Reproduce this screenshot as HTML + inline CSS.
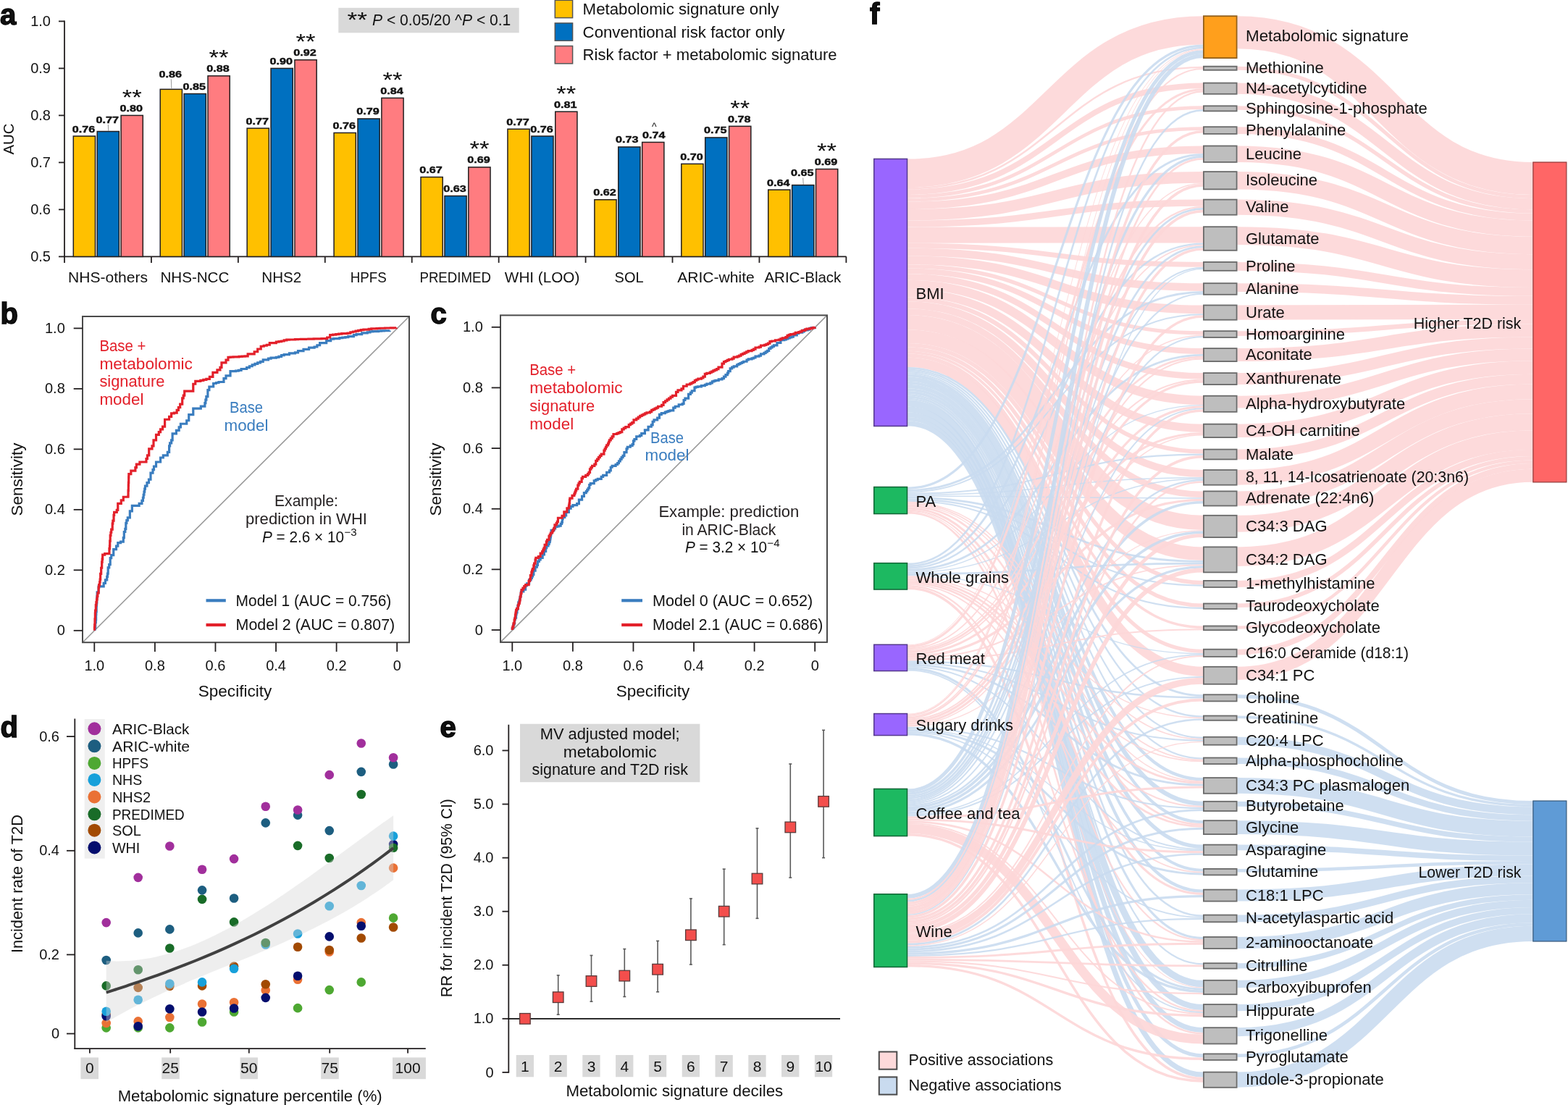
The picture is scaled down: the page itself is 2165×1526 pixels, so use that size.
<!DOCTYPE html>
<html><head><meta charset="utf-8"><title>Figure</title>
<style>html,body{margin:0;padding:0;background:#fff;} svg{display:block;}</style></head>
<body><svg width="2165" height="1526" viewBox="0 0 2165 1526" font-family="'Liberation Sans', Arial, Helvetica, sans-serif" font-size="22" fill="#111">
<rect width="2165" height="1526" fill="#fff"/>
<text x="0" y="33.5" font-size="40" font-weight="bold" stroke="#000" stroke-width="1.4">a</text>
<line x1="89" y1="28.4" x2="89" y2="354.4" stroke="#231f20" stroke-width="1.8" />
<line x1="88.1" y1="354.4" x2="1168.5" y2="354.4" stroke="#231f20" stroke-width="1.8" />
<line x1="81" y1="29.4" x2="89" y2="29.4" stroke="#231f20" stroke-width="1.8" />
<text x="70" y="36" font-size="20" text-anchor="end">1.0</text>
<line x1="81" y1="94.4" x2="89" y2="94.4" stroke="#231f20" stroke-width="1.8" />
<text x="70" y="101" font-size="20" text-anchor="end">0.9</text>
<line x1="81" y1="159.4" x2="89" y2="159.4" stroke="#231f20" stroke-width="1.8" />
<text x="70" y="166" font-size="20" text-anchor="end">0.8</text>
<line x1="81" y1="224.4" x2="89" y2="224.4" stroke="#231f20" stroke-width="1.8" />
<text x="70" y="231" font-size="20" text-anchor="end">0.7</text>
<line x1="81" y1="289.4" x2="89" y2="289.4" stroke="#231f20" stroke-width="1.8" />
<text x="70" y="296" font-size="20" text-anchor="end">0.6</text>
<line x1="81" y1="354.4" x2="89" y2="354.4" stroke="#231f20" stroke-width="1.8" />
<text x="70" y="361" font-size="20" text-anchor="end">0.5</text>
<line x1="89" y1="354.4" x2="89" y2="362.9" stroke="#231f20" stroke-width="1.8" />
<line x1="208.93" y1="354.4" x2="208.93" y2="362.9" stroke="#231f20" stroke-width="1.8" />
<line x1="328.86" y1="354.4" x2="328.86" y2="362.9" stroke="#231f20" stroke-width="1.8" />
<line x1="448.79" y1="354.4" x2="448.79" y2="362.9" stroke="#231f20" stroke-width="1.8" />
<line x1="568.72" y1="354.4" x2="568.72" y2="362.9" stroke="#231f20" stroke-width="1.8" />
<line x1="688.65" y1="354.4" x2="688.65" y2="362.9" stroke="#231f20" stroke-width="1.8" />
<line x1="808.58" y1="354.4" x2="808.58" y2="362.9" stroke="#231f20" stroke-width="1.8" />
<line x1="928.51" y1="354.4" x2="928.51" y2="362.9" stroke="#231f20" stroke-width="1.8" />
<line x1="1048.44" y1="354.4" x2="1048.44" y2="362.9" stroke="#231f20" stroke-width="1.8" />
<line x1="1168.37" y1="354.4" x2="1168.37" y2="362.9" stroke="#231f20" stroke-width="1.8" />
<text x="19" y="192" font-size="20" text-anchor="middle" textLength="43" lengthAdjust="spacingAndGlyphs" transform="rotate(-90 19 192)">AUC</text>
<text x="148.97" y="389.5" font-size="21" text-anchor="middle" textLength="110" lengthAdjust="spacingAndGlyphs">NHS-others</text>
<rect x="101.3" y="188" width="30.2" height="166.4" fill="#ffc000" stroke="#231f20" stroke-width="1.5" />
<text x="115.4" y="182.5" font-size="13.6" text-anchor="middle" font-weight="bold" textLength="31.5" lengthAdjust="spacingAndGlyphs" stroke="#111" stroke-width="0.45">0.76</text>
<rect x="134.2" y="181.5" width="30.2" height="172.9" fill="#0070c0" stroke="#231f20" stroke-width="1.5" />
<line x1="149.3" y1="172" x2="149.8" y2="181" stroke="#999" stroke-width="1" />
<text x="148.3" y="169.5" font-size="13.6" text-anchor="middle" font-weight="bold" textLength="31.5" lengthAdjust="spacingAndGlyphs" stroke="#111" stroke-width="0.45">0.77</text>
<rect x="167.1" y="159.4" width="30.2" height="195" fill="#ff7c80" stroke="#231f20" stroke-width="1.5" />
<text x="181.2" y="153.9" font-size="13.6" text-anchor="middle" font-weight="bold" textLength="31.5" lengthAdjust="spacingAndGlyphs" stroke="#111" stroke-width="0.45">0.80</text>
<text x="182.2" y="143.9" font-size="30" text-anchor="middle" textLength="27" lengthAdjust="spacingAndGlyphs">**</text>
<text x="268.89" y="389.5" font-size="21" text-anchor="middle" textLength="95" lengthAdjust="spacingAndGlyphs">NHS-NCC</text>
<rect x="221.23" y="123.32" width="30.2" height="231.08" fill="#ffc000" stroke="#231f20" stroke-width="1.5" />
<line x1="236.33" y1="109.32" x2="236.83" y2="122.82" stroke="#999" stroke-width="1" />
<text x="235.33" y="106.82" font-size="13.6" text-anchor="middle" font-weight="bold" textLength="31.5" lengthAdjust="spacingAndGlyphs" stroke="#111" stroke-width="0.45">0.86</text>
<rect x="254.13" y="129.5" width="30.2" height="224.9" fill="#0070c0" stroke="#231f20" stroke-width="1.5" />
<text x="268.23" y="124" font-size="13.6" text-anchor="middle" font-weight="bold" textLength="31.5" lengthAdjust="spacingAndGlyphs" stroke="#111" stroke-width="0.45">0.85</text>
<rect x="287.03" y="104.8" width="30.2" height="249.6" fill="#ff7c80" stroke="#231f20" stroke-width="1.5" />
<text x="301.13" y="99.3" font-size="13.6" text-anchor="middle" font-weight="bold" textLength="31.5" lengthAdjust="spacingAndGlyphs" stroke="#111" stroke-width="0.45">0.88</text>
<text x="302.13" y="89.3" font-size="30" text-anchor="middle" textLength="27" lengthAdjust="spacingAndGlyphs">**</text>
<text x="388.83" y="389.5" font-size="21" text-anchor="middle" textLength="55" lengthAdjust="spacingAndGlyphs">NHS2</text>
<rect x="341.16" y="177.14" width="30.2" height="177.26" fill="#ffc000" stroke="#231f20" stroke-width="1.5" />
<text x="355.26" y="171.64" font-size="13.6" text-anchor="middle" font-weight="bold" textLength="31.5" lengthAdjust="spacingAndGlyphs" stroke="#111" stroke-width="0.45">0.77</text>
<rect x="374.06" y="94.4" width="30.2" height="260" fill="#0070c0" stroke="#231f20" stroke-width="1.5" />
<text x="388.16" y="88.9" font-size="13.6" text-anchor="middle" font-weight="bold" textLength="31.5" lengthAdjust="spacingAndGlyphs" stroke="#111" stroke-width="0.45">0.90</text>
<rect x="406.96" y="82.7" width="30.2" height="271.7" fill="#ff7c80" stroke="#231f20" stroke-width="1.5" />
<text x="421.06" y="77.2" font-size="13.6" text-anchor="middle" font-weight="bold" textLength="31.5" lengthAdjust="spacingAndGlyphs" stroke="#111" stroke-width="0.45">0.92</text>
<text x="422.06" y="67.2" font-size="30" text-anchor="middle" textLength="27" lengthAdjust="spacingAndGlyphs">**</text>
<text x="508.75" y="389.5" font-size="21" text-anchor="middle" textLength="50" lengthAdjust="spacingAndGlyphs">HPFS</text>
<rect x="461.09" y="183.45" width="30.2" height="170.95" fill="#ffc000" stroke="#231f20" stroke-width="1.5" />
<text x="475.19" y="177.95" font-size="13.6" text-anchor="middle" font-weight="bold" textLength="31.5" lengthAdjust="spacingAndGlyphs" stroke="#111" stroke-width="0.45">0.76</text>
<rect x="493.99" y="163.95" width="30.2" height="190.45" fill="#0070c0" stroke="#231f20" stroke-width="1.5" />
<text x="508.09" y="158.45" font-size="13.6" text-anchor="middle" font-weight="bold" textLength="31.5" lengthAdjust="spacingAndGlyphs" stroke="#111" stroke-width="0.45">0.79</text>
<rect x="526.89" y="135.35" width="30.2" height="219.05" fill="#ff7c80" stroke="#231f20" stroke-width="1.5" />
<text x="540.99" y="129.85" font-size="13.6" text-anchor="middle" font-weight="bold" textLength="31.5" lengthAdjust="spacingAndGlyphs" stroke="#111" stroke-width="0.45">0.84</text>
<text x="541.99" y="119.85" font-size="30" text-anchor="middle" textLength="27" lengthAdjust="spacingAndGlyphs">**</text>
<text x="628.69" y="389.5" font-size="21" text-anchor="middle" textLength="98.5" lengthAdjust="spacingAndGlyphs">PREDIMED</text>
<rect x="581.02" y="244.55" width="30.2" height="109.85" fill="#ffc000" stroke="#231f20" stroke-width="1.5" />
<text x="595.12" y="239.05" font-size="13.6" text-anchor="middle" font-weight="bold" textLength="31.5" lengthAdjust="spacingAndGlyphs" stroke="#111" stroke-width="0.45">0.67</text>
<rect x="613.92" y="270.55" width="30.2" height="83.85" fill="#0070c0" stroke="#231f20" stroke-width="1.5" />
<text x="628.02" y="265.05" font-size="13.6" text-anchor="middle" font-weight="bold" textLength="31.5" lengthAdjust="spacingAndGlyphs" stroke="#111" stroke-width="0.45">0.63</text>
<rect x="646.82" y="230.9" width="30.2" height="123.5" fill="#ff7c80" stroke="#231f20" stroke-width="1.5" />
<text x="660.92" y="225.4" font-size="13.6" text-anchor="middle" font-weight="bold" textLength="31.5" lengthAdjust="spacingAndGlyphs" stroke="#111" stroke-width="0.45">0.69</text>
<text x="661.92" y="215.4" font-size="30" text-anchor="middle" textLength="27" lengthAdjust="spacingAndGlyphs">**</text>
<text x="748.62" y="389.5" font-size="21" text-anchor="middle" textLength="103.5" lengthAdjust="spacingAndGlyphs">WHI (LOO)</text>
<rect x="700.95" y="178.25" width="30.2" height="176.15" fill="#ffc000" stroke="#231f20" stroke-width="1.5" />
<text x="715.05" y="172.75" font-size="13.6" text-anchor="middle" font-weight="bold" textLength="31.5" lengthAdjust="spacingAndGlyphs" stroke="#111" stroke-width="0.45">0.77</text>
<rect x="733.85" y="188" width="30.2" height="166.4" fill="#0070c0" stroke="#231f20" stroke-width="1.5" />
<text x="747.95" y="182.5" font-size="13.6" text-anchor="middle" font-weight="bold" textLength="31.5" lengthAdjust="spacingAndGlyphs" stroke="#111" stroke-width="0.45">0.76</text>
<rect x="766.75" y="154.2" width="30.2" height="200.2" fill="#ff7c80" stroke="#231f20" stroke-width="1.5" />
<text x="780.85" y="148.7" font-size="13.6" text-anchor="middle" font-weight="bold" textLength="31.5" lengthAdjust="spacingAndGlyphs" stroke="#111" stroke-width="0.45">0.81</text>
<text x="781.85" y="138.7" font-size="30" text-anchor="middle" textLength="27" lengthAdjust="spacingAndGlyphs">**</text>
<text x="868.55" y="389.5" font-size="21" text-anchor="middle" textLength="40" lengthAdjust="spacingAndGlyphs">SOL</text>
<rect x="820.88" y="275.75" width="30.2" height="78.65" fill="#ffc000" stroke="#231f20" stroke-width="1.5" />
<text x="834.98" y="270.25" font-size="13.6" text-anchor="middle" font-weight="bold" textLength="31.5" lengthAdjust="spacingAndGlyphs" stroke="#111" stroke-width="0.45">0.62</text>
<rect x="853.78" y="202.95" width="30.2" height="151.45" fill="#0070c0" stroke="#231f20" stroke-width="1.5" />
<text x="865.88" y="197.45" font-size="13.6" text-anchor="middle" font-weight="bold" textLength="31.5" lengthAdjust="spacingAndGlyphs" stroke="#111" stroke-width="0.45">0.73</text>
<rect x="886.68" y="196.45" width="30.2" height="157.95" fill="#ff7c80" stroke="#231f20" stroke-width="1.5" />
<text x="902.78" y="190.95" font-size="13.6" text-anchor="middle" font-weight="bold" textLength="31.5" lengthAdjust="spacingAndGlyphs" stroke="#111" stroke-width="0.45">0.74</text>
<text x="903.28" y="179.95" font-size="14" text-anchor="middle">^</text>
<text x="988.48" y="389.5" font-size="21" text-anchor="middle" textLength="106.5" lengthAdjust="spacingAndGlyphs">ARIC-white</text>
<rect x="940.81" y="226.35" width="30.2" height="128.05" fill="#ffc000" stroke="#231f20" stroke-width="1.5" />
<text x="954.91" y="220.85" font-size="13.6" text-anchor="middle" font-weight="bold" textLength="31.5" lengthAdjust="spacingAndGlyphs" stroke="#111" stroke-width="0.45">0.70</text>
<rect x="973.71" y="189.95" width="30.2" height="164.45" fill="#0070c0" stroke="#231f20" stroke-width="1.5" />
<text x="987.81" y="184.45" font-size="13.6" text-anchor="middle" font-weight="bold" textLength="31.5" lengthAdjust="spacingAndGlyphs" stroke="#111" stroke-width="0.45">0.75</text>
<rect x="1006.61" y="174.35" width="30.2" height="180.05" fill="#ff7c80" stroke="#231f20" stroke-width="1.5" />
<text x="1020.71" y="168.85" font-size="13.6" text-anchor="middle" font-weight="bold" textLength="31.5" lengthAdjust="spacingAndGlyphs" stroke="#111" stroke-width="0.45">0.78</text>
<text x="1021.71" y="158.85" font-size="30" text-anchor="middle" textLength="27" lengthAdjust="spacingAndGlyphs">**</text>
<text x="1108.4" y="389.5" font-size="21" text-anchor="middle" textLength="106" lengthAdjust="spacingAndGlyphs">ARIC-Black</text>
<rect x="1060.74" y="262.1" width="30.2" height="92.3" fill="#ffc000" stroke="#231f20" stroke-width="1.5" />
<text x="1074.84" y="256.6" font-size="13.6" text-anchor="middle" font-weight="bold" textLength="31.5" lengthAdjust="spacingAndGlyphs" stroke="#111" stroke-width="0.45">0.64</text>
<rect x="1093.64" y="255.6" width="30.2" height="98.8" fill="#0070c0" stroke="#231f20" stroke-width="1.5" />
<line x1="1108.74" y1="245.6" x2="1109.24" y2="255.1" stroke="#999" stroke-width="1" />
<text x="1107.74" y="243.1" font-size="13.6" text-anchor="middle" font-weight="bold" textLength="31.5" lengthAdjust="spacingAndGlyphs" stroke="#111" stroke-width="0.45">0.65</text>
<rect x="1126.54" y="233.5" width="30.2" height="120.9" fill="#ff7c80" stroke="#231f20" stroke-width="1.5" />
<text x="1140.64" y="228" font-size="13.6" text-anchor="middle" font-weight="bold" textLength="31.5" lengthAdjust="spacingAndGlyphs" stroke="#111" stroke-width="0.45">0.69</text>
<text x="1141.64" y="218" font-size="30" text-anchor="middle" textLength="27" lengthAdjust="spacingAndGlyphs">**</text>
<rect x="467.3" y="10.8" width="249.4" height="34.5" fill="#d9d9d9" />
<text x="479.5" y="37" font-size="30" textLength="27.5" lengthAdjust="spacingAndGlyphs">**</text>
<text x="514" y="35.3" font-size="21.5" textLength="191.3" lengthAdjust="spacingAndGlyphs"><tspan font-style="italic">P</tspan> &lt; 0.05/20 ^<tspan font-style="italic">P</tspan> &lt; 0.1</text>
<rect x="766.3" y="0.3" width="24.3" height="24.3" fill="#ffc000" stroke="#555" stroke-width="1.5" />
<text x="804.6" y="19.9" textLength="271" lengthAdjust="spacingAndGlyphs">Metabolomic signature only</text>
<rect x="766.3" y="31.9" width="24.3" height="24.3" fill="#0070c0" stroke="#555" stroke-width="1.5" />
<text x="804.6" y="51.5" textLength="279" lengthAdjust="spacingAndGlyphs">Conventional risk factor only</text>
<rect x="766.3" y="63.5" width="24.3" height="24.3" fill="#ff7c80" stroke="#555" stroke-width="1.5" />
<text x="804.6" y="83.1" textLength="351" lengthAdjust="spacingAndGlyphs">Risk factor + metabolomic signature</text>
<text x="0.5" y="446.6" font-size="40" font-weight="bold" stroke="#000" stroke-width="1.4">b</text>
<line x1="114" y1="887.2" x2="565" y2="437" stroke="#9a9a9a" stroke-width="1.6" />
<polyline points="131.1,870.76 131.1,867.02 131.4,867.02 131.71,867.02 131.71,863.28 131.71,859.54 132.01,859.54 132.31,859.54 132.31,855.81 132.61,855.81 132.61,852.07 132.61,848.3 132.8,848.3 132.8,844.53 132.99,844.53 133.18,844.53 133.18,840.76 133.18,836.99 133.36,836.99 133.36,833.23 133.55,833.23 133.74,833.23 133.74,829.46 133.74,825.69 133.93,825.69 134.12,825.69 134.12,821.92 134.12,817.9 135.12,817.9 136.13,817.9 136.13,813.88 136.13,809.86 137.13,809.86 143.16,809.86 143.16,805.34 145.42,805.34 145.42,800.82 147.68,800.82 147.68,796.29 148.44,796.29 148.44,792.15 149.19,792.15 149.19,788 149.19,783.86 149.95,783.86 150.7,783.86 150.7,779.71 152.21,779.71 152.21,775.19 152.21,770.67 153.71,770.67 153.71,766.65 155.22,766.65 156.73,766.65 156.73,762.63 156.73,758.61 158.24,758.61 160.5,758.61 160.5,754.09 162.76,754.09 162.76,749.57 166.53,749.57 166.53,748.06 170.3,748.06 170.3,746.55 170.3,742.53 170.8,742.53 171.3,742.53 171.3,738.51 171.3,734.49 171.8,734.49 172.81,734.49 172.81,730.47 173.81,730.47 173.81,726.45 173.81,722.43 174.82,722.43 174.82,718.66 176.32,718.66 176.32,714.9 177.83,714.9 179.34,714.9 179.34,710.37 179.34,705.85 180.85,705.85 182.35,705.85 182.35,701.33 182.35,698.31 188.38,698.31 192.15,698.31 192.15,696.81 192.15,695.3 195.92,695.3 195.92,691.28 196.67,691.28 197.43,691.28 197.43,687.26 198.18,687.26 198.18,683.24 198.94,683.24 198.94,679.22 199.69,679.22 199.69,675.2 200.44,675.2 200.44,671.18 202.96,671.18 202.96,666.66 205.47,666.66 205.47,662.14 207.98,662.14 207.98,657.62 207.98,653.09 209.49,653.09 210.99,653.09 210.99,648.57 212.5,648.57 212.5,644.05 215.52,644.05 215.52,638.02 221.55,638.02 221.55,631.99 225.32,631.99 225.32,630.48 225.32,628.97 229.08,628.97 231.34,628.97 231.34,624.45 233.61,624.45 233.61,619.93 233.61,615.91 234.61,615.91 234.61,611.89 235.62,611.89 236.62,611.89 236.62,607.87 238.13,607.87 238.13,603.35 238.13,598.83 239.64,598.83 243.4,598.83 243.4,596.57 243.4,594.31 247.17,594.31 247.17,589.78 249.43,589.78 249.43,585.26 251.69,585.26 257.72,585.26 257.72,580.74 260.74,580.74 260.74,576.72 260.74,572.7 263.75,572.7 266.77,572.7 266.77,568.68 266.77,564.16 272.8,564.16 277.32,564.16 277.32,562.65 277.32,561.14 281.84,561.14 282.85,561.14 282.85,556.62 283.85,556.62 283.85,552.1 284.86,552.1 284.86,547.58 286.87,547.58 286.87,543.05 286.87,538.53 288.88,538.53 288.88,534.01 290.89,534.01 294.65,534.01 294.65,531.75 294.65,529.49 298.42,529.49 298.42,528.48 301.94,528.48 301.94,527.48 305.46,527.48 308.97,527.48 308.97,526.47 308.97,522.7 311.99,522.7 311.99,518.94 315,518.94 318.02,518.94 318.02,512.91 318.02,512.53 321.79,512.53 325.56,512.53 325.56,512.15 329.32,512.15 329.32,511.78 329.32,511.4 333.09,511.4 333.09,509.51 336.86,509.51 340.63,509.51 340.63,507.63 344.4,507.63 344.4,505.75 348.17,505.75 348.17,503.86 351.94,503.86 351.94,502.35 355.7,502.35 355.7,500.85 359.47,500.85 359.47,499.34 363.24,499.34 363.24,497.83 363.24,496.93 366.86,496.93 370.48,496.93 370.48,496.02 370.48,495.12 374.09,495.12 374.09,494.21 377.71,494.21 381.33,494.21 381.33,493.31 384.95,493.31 384.95,492.41 388.56,492.41 388.56,491.5 388.56,490.6 392.18,490.6 392.18,489.69 395.8,489.69 399.42,489.69 399.42,488.79 399.42,487.78 403.44,487.78 407.46,487.78 407.46,486.78 411.48,486.78 411.48,485.77 411.48,484.64 415.25,484.64 419.01,484.64 419.01,483.51 419.01,482.38 422.78,482.38 426.55,482.38 426.55,481.25 426.55,480.12 430.32,480.12 434.09,480.12 434.09,478.99 437.86,478.99 437.86,477.86 437.86,476.73 441.62,476.73 441.62,473.71 446.15,473.71 450.67,473.71 450.67,470.7 456.7,470.7 456.7,468.59 456.7,468.09 460.72,468.09 460.72,467.58 464.74,467.58 468.76,467.58 468.76,467.08 468.76,466.58 472.78,466.58 472.78,466.08 476.8,466.08 476.8,465.57 480.82,465.57 480.82,464.59 484.59,464.59 488.35,464.59 488.35,463.61 488.35,462.63 492.12,462.63 492.12,461.66 495.89,461.66 499.66,461.66 499.66,460.75 499.66,459.85 503.43,459.85 507.2,459.85 507.2,458.94 510.96,458.94 510.96,458.04 510.96,457.82 514.84,457.82 514.84,457.61 518.72,457.61 522.59,457.61 522.59,457.39 522.59,457.18 526.47,457.18 526.47,456.96 530.35,456.96 530.35,456.75 534.22,456.75 538.1,456.75 538.1,456.53" fill="none" stroke="#3a7dbf" stroke-width="3.2" stroke-linejoin="miter"/>
<polyline points="130.5,870.76 130.5,866.8 130.67,866.8 130.67,862.84 130.84,862.84 131.02,862.84 131.02,858.87 131.02,854.91 131.19,854.91 131.36,854.91 131.36,850.95 131.36,846.99 131.53,846.99 131.53,843.02 131.71,843.02 132.31,843.02 132.31,839.26 132.31,835.49 132.91,835.49 132.91,831.72 133.52,831.72 133.52,827.95 134.12,827.95 134.12,823.43 134.87,823.43 134.87,818.91 135.63,818.91 136.13,818.91 136.13,815.14 136.13,811.37 136.63,811.37 136.63,807.6 137.13,807.6 137.64,807.6 137.64,803.83 138.14,803.83 138.14,800.06 138.64,800.06 138.64,796.29 138.64,792.28 139.14,792.28 139.65,792.28 139.65,788.26 139.65,784.24 140.15,784.24 140.65,784.24 140.65,780.22 140.65,776.2 141.15,776.2 141.15,772.18 141.66,772.18 141.66,766.15 144.67,766.15 144.67,764.64 150.7,764.64 150.95,764.64 150.95,761.12 150.95,757.61 151.2,757.61 151.45,757.61 151.45,754.09 151.7,754.09 151.7,750.57 151.7,747.05 151.96,747.05 152.21,747.05 152.21,743.54 152.21,739.39 152.96,739.39 152.96,735.25 153.71,735.25 153.71,731.1 154.47,731.1 155.22,731.1 155.22,726.96 155.22,723.04 155.82,723.04 155.82,719.12 156.43,719.12 157.03,719.12 157.03,715.2 157.03,711.28 157.63,711.28 157.63,707.36 158.24,707.36 161.25,707.36 161.25,704.34 162.76,704.34 162.76,699.82 162.76,695.3 164.27,695.3 167.28,695.3 167.28,690.78 170.3,690.78 170.3,686.26 176.93,686.26 176.93,684.75 177.06,684.75 177.06,681.09 177.06,677.43 177.19,677.43 177.32,677.43 177.32,673.77 177.32,670.11 177.44,670.11 177.44,666.44 177.57,666.44 177.7,666.44 177.7,662.78 177.7,659.12 177.83,659.12 177.83,654.6 180.85,654.6 180.85,650.08 185.37,650.08 186.88,650.08 186.88,645.56 188.38,645.56 188.38,641.03 192.91,641.03 192.91,638.02 196.67,638.02 196.67,638.02 196.67,638.02 200.44,638.02 201.95,638.02 201.95,633.5 203.46,633.5 203.46,628.97 205.72,628.97 205.72,624.45 205.72,619.93 207.98,619.93 209.99,619.93 209.99,615.91 212,615.91 212,611.89 212,607.87 214.01,607.87 215.52,607.87 215.52,604.1 215.52,600.33 217.02,600.33 219.29,600.33 219.29,596.57 221.55,596.57 221.55,592.8 224.56,592.8 224.56,589.03 227.58,589.03 227.58,585.26 227.58,579.23 233.61,579.23 233.61,575.46 235.11,575.46 236.62,575.46 236.62,571.69 236.62,570.94 240.39,570.94 240.39,570.19 244.16,570.19 244.16,566.42 246.42,566.42 246.42,562.65 248.68,562.65 248.68,558.13 250.19,558.13 251.69,558.13 251.69,553.61 251.69,549.84 253.2,549.84 253.2,546.07 254.71,546.07 254.71,540.04 260.74,540.04 266.77,540.04 266.77,534.01 266.77,530.24 269.78,530.24 269.78,526.47 272.8,526.47 276.82,526.47 276.82,525.47 280.84,525.47 280.84,524.46 284.86,524.46 284.86,523.46 289.38,523.46 289.38,521.95 289.38,520.44 293.9,520.44 293.9,514.41 299.93,514.41 299.93,510.9 301.94,510.9 303.95,510.9 303.95,507.38 305.96,507.38 305.96,503.86 305.96,500.85 311.99,500.85 311.99,497.08 315,497.08 315,493.31 318.02,493.31 318.02,493.06 322.04,493.06 322.04,492.81 326.06,492.81 330.08,492.81 330.08,492.56 330.08,492.31 334.1,492.31 334.1,492.05 338.12,492.05 338.12,491.8 342.14,491.8 342.14,488.79 346.66,488.79 351.18,488.79 351.18,485.77 355.7,485.77 355.7,482 360.23,482 360.23,478.24 364.25,478.24 364.25,477.23 368.27,477.23 368.27,476.23 372.29,476.23 372.29,475.22 372.29,473.71 376.81,473.71 381.33,473.71 381.33,472.21 384.95,472.21 384.95,471.6 388.56,471.6 388.56,471 392.18,471 392.18,470.4 392.18,469.79 395.8,469.79 395.8,469.19 399.42,469.19 399.42,468.99 403.44,468.99 407.46,468.99 407.46,468.79 407.46,468.59 411.48,468.59 411.48,468.5 415.09,468.5 415.09,468.41 418.71,468.41 418.71,468.32 422.33,468.32 422.33,468.23 425.95,468.23 425.95,468.14 429.57,468.14 429.57,468.05 433.18,468.05 433.18,467.96 436.8,467.96 436.8,467.87 440.42,467.87 440.42,467.78 444.04,467.78 444.04,467.68 447.65,467.68 451.67,467.68 451.67,465.98 455.69,465.98 455.69,464.27 455.69,462.56 459.71,462.56 459.71,462.06 463.73,462.06 463.73,461.55 467.75,461.55 467.75,461.05 471.77,461.05 471.77,460.55 475.79,460.55 479.81,460.55 479.81,460.05 483.83,460.05 483.83,459.54 483.83,458.76 487.45,458.76 487.45,457.98 491.07,457.98 491.07,457.19 494.68,457.19 494.68,456.41 498.3,456.41 498.3,455.63 501.92,455.63 501.92,455.2 505.54,455.2 509.16,455.2 509.16,454.78 509.16,454.36 512.77,454.36 512.77,453.94 516.39,453.94 520.01,453.94 520.01,453.52 523.89,453.52 523.89,453.39 523.89,453.26 527.76,453.26 531.64,453.26 531.64,453.13 531.64,453 535.51,453 539.39,453 539.39,452.87 543.27,452.87 543.27,452.74 547.14,452.74 547.14,452.61" fill="none" stroke="#e3202a" stroke-width="3.2" stroke-linejoin="miter"/>
<rect x="114" y="437" width="451" height="450.2" fill="none" stroke="#4a4a4a" stroke-width="2"/>
<line x1="101.7" y1="453.4" x2="114" y2="453.4" stroke="#231f20" stroke-width="1.8" />
<text x="89.8" y="460" font-size="20" text-anchor="end">1.0</text>
<line x1="101.7" y1="536.88" x2="114" y2="536.88" stroke="#231f20" stroke-width="1.8" />
<text x="89.8" y="543.48" font-size="20" text-anchor="end">0.8</text>
<line x1="101.7" y1="620.36" x2="114" y2="620.36" stroke="#231f20" stroke-width="1.8" />
<text x="89.8" y="626.96" font-size="20" text-anchor="end">0.6</text>
<line x1="101.7" y1="703.84" x2="114" y2="703.84" stroke="#231f20" stroke-width="1.8" />
<text x="89.8" y="710.44" font-size="20" text-anchor="end">0.4</text>
<line x1="101.7" y1="787.32" x2="114" y2="787.32" stroke="#231f20" stroke-width="1.8" />
<text x="89.8" y="793.92" font-size="20" text-anchor="end">0.2</text>
<line x1="101.7" y1="870.8" x2="114" y2="870.8" stroke="#231f20" stroke-width="1.8" />
<text x="89.8" y="877.4" font-size="20" text-anchor="end">0</text>
<line x1="130.3" y1="887.2" x2="130.3" y2="900" stroke="#231f20" stroke-width="1.8" />
<text x="130.3" y="925.5" font-size="20" text-anchor="middle">1.0</text>
<line x1="213.88" y1="887.2" x2="213.88" y2="900" stroke="#231f20" stroke-width="1.8" />
<text x="213.88" y="925.5" font-size="20" text-anchor="middle">0.8</text>
<line x1="297.46" y1="887.2" x2="297.46" y2="900" stroke="#231f20" stroke-width="1.8" />
<text x="297.46" y="925.5" font-size="20" text-anchor="middle">0.6</text>
<line x1="381.04" y1="887.2" x2="381.04" y2="900" stroke="#231f20" stroke-width="1.8" />
<text x="381.04" y="925.5" font-size="20" text-anchor="middle">0.4</text>
<line x1="464.62" y1="887.2" x2="464.62" y2="900" stroke="#231f20" stroke-width="1.8" />
<text x="464.62" y="925.5" font-size="20" text-anchor="middle">0.2</text>
<line x1="548.2" y1="887.2" x2="548.2" y2="900" stroke="#231f20" stroke-width="1.8" />
<text x="548.2" y="925.5" font-size="20" text-anchor="middle">0</text>
<text x="324.5" y="962" text-anchor="middle" textLength="101.5" lengthAdjust="spacingAndGlyphs">Specificity</text>
<text x="31" y="662" text-anchor="middle" textLength="101" lengthAdjust="spacingAndGlyphs" transform="rotate(-90 31 662)">Sensitivity</text>
<text x="137.4" y="484.7" fill="#e3202a" textLength="64" lengthAdjust="spacingAndGlyphs">Base +</text>
<text x="137.4" y="509.7" fill="#e3202a" textLength="128.5" lengthAdjust="spacingAndGlyphs">metabolomic</text>
<text x="137.4" y="534.3" fill="#e3202a" textLength="90" lengthAdjust="spacingAndGlyphs">signature</text>
<text x="137.4" y="559.4" fill="#e3202a" textLength="61" lengthAdjust="spacingAndGlyphs">model</text>
<text x="340" y="569.8" text-anchor="middle" fill="#3a7dbf" textLength="46" lengthAdjust="spacingAndGlyphs">Base</text>
<text x="340" y="594.8" text-anchor="middle" fill="#3a7dbf" textLength="61" lengthAdjust="spacingAndGlyphs">model</text>
<text x="423" y="699.4" text-anchor="middle" fill="#231f20" textLength="88" lengthAdjust="spacingAndGlyphs">Example:</text>
<text x="423" y="724.4" text-anchor="middle" fill="#231f20" textLength="168" lengthAdjust="spacingAndGlyphs">prediction in WHI</text>
<line x1="284.5" y1="829.3" x2="311.8" y2="829.3" stroke="#3a7dbf" stroke-width="4.2" />
<text x="325.6" y="836.5" textLength="214.7" lengthAdjust="spacingAndGlyphs">Model 1 (AUC = 0.756)</text>
<line x1="284.5" y1="863" x2="311.8" y2="863" stroke="#e3202a" stroke-width="4.2" />
<text x="325.6" y="870.2" textLength="219.6" lengthAdjust="spacingAndGlyphs">Model 2 (AUC = 0.807)</text>
<text x="362" y="748.5" textLength="113" lengthAdjust="spacingAndGlyphs"><tspan font-style="italic">P</tspan> = 2.6 × 10</text><text x="475.5" y="740" font-size="15">−3</text>
<text x="594.5" y="446.6" font-size="40" font-weight="bold" stroke="#000" stroke-width="1.4">c</text>
<line x1="691" y1="886.9" x2="1142" y2="435.4" stroke="#9a9a9a" stroke-width="1.6" />
<polyline points="707.33,870.04 707.33,867.62 707.99,867.62 708.64,867.62 708.64,865.19 708.64,862.76 709.29,862.76 709.95,862.76 709.95,860.34 710.6,860.34 710.6,857.91 710.6,855.48 711.25,855.48 711.25,853.05 711.91,853.05 712.56,853.05 712.56,850.63 712.56,848.29 713.03,848.29 713.03,845.96 713.5,845.96 713.96,845.96 713.96,843.63 713.96,841.29 714.43,841.29 714.9,841.29 714.9,838.96 714.9,836.62 715.36,836.62 715.83,836.62 715.83,834.29 715.83,831.96 716.3,831.96 716.92,831.96 716.92,829.47 717.54,829.47 717.54,826.98 718.16,826.98 718.16,824.49 718.79,824.49 718.79,822 719.41,822 719.41,819.51 719.41,817.02 720.03,817.02 722.83,817.02 722.83,814.22 725.63,814.22 725.63,811.42 725.63,808.62 727.5,808.62 727.5,805.82 729.37,805.82 730.61,805.82 730.61,803.33 730.61,800.84 731.85,800.84 733.1,800.84 733.1,798.35 734.34,798.35 734.34,795.86 735.59,795.86 735.59,793.37 736.83,793.37 736.83,790.88 736.83,788.27 737.95,788.27 739.07,788.27 739.07,785.65 739.07,783.04 740.19,783.04 741.31,783.04 741.31,780.43 742.43,780.43 742.43,777.81 742.43,775.32 744.3,775.32 744.3,772.83 746.17,772.83 746.17,770.34 748.04,770.34 749.16,770.34 749.16,768.1 749.16,765.86 750.28,765.86 751.4,765.86 751.4,763.62 751.4,761.38 752.52,761.38 753.64,761.38 753.64,759.14 753.64,756.53 754.76,756.53 754.76,753.91 755.88,753.91 757,753.91 757,751.3 758.12,751.3 758.12,748.69 759.24,748.69 759.24,746.07 759.61,746.07 759.61,743.83 759.99,743.83 759.99,741.59 760.36,741.59 760.36,739.35 760.73,739.35 760.73,737.11 761.11,737.11 761.11,734.87 761.11,732.38 762.97,732.38 764.84,732.38 764.84,729.89 766.71,729.89 766.71,727.4 769.2,727.4 769.2,726.78 771.69,726.78 771.69,726.16 774.17,726.16 774.17,725.53 774.17,723.29 774.92,723.29 775.67,723.29 775.67,721.05 776.42,721.05 776.42,718.81 776.42,716.57 777.16,716.57 777.16,714.33 777.91,714.33 779.78,714.33 779.78,712 781.64,712 781.64,709.66 781.64,707.33 783.51,707.33 785.38,707.33 785.38,705 785.38,702.2 788.18,702.2 788.18,699.4 790.98,699.4 790.98,697.53 793.78,697.53 796.58,697.53 796.58,695.66 799.38,695.66 799.38,692.86 799.38,690.06 802.18,690.06 803.58,690.06 803.58,687.73 803.58,685.39 804.98,685.39 806.38,685.39 806.38,683.06 806.38,680.72 807.78,680.72 809.28,680.72 809.28,678.48 810.77,678.48 810.77,676.24 812.26,676.24 812.26,674 813.76,674 813.76,671.76 813.76,669.52 815.25,669.52 815.25,667.65 817.74,667.65 820.23,667.65 820.23,665.79 820.23,663.92 822.72,663.92 822.72,662.68 825.21,662.68 825.21,661.43 827.7,661.43 830.19,661.43 830.19,660.19 830.19,658.32 832.68,658.32 832.68,656.45 835.17,656.45 837.65,656.45 837.65,654.59 837.65,652.25 839.52,652.25 841.39,652.25 841.39,649.92 843.26,649.92 843.26,647.58 843.26,645.25 845.12,645.25 845.12,643.38 847.61,643.38 850.1,643.38 850.1,641.52 852.59,641.52 852.59,639.65 854.46,639.65 854.46,636.85 856.33,636.85 856.33,634.05 858.19,634.05 858.19,631.71 860.06,631.71 860.06,629.38 861.93,629.38 861.93,627.05 861.93,624.71 863.79,624.71 865.04,624.71 865.04,622.22 865.04,619.73 866.28,619.73 866.28,617.24 867.53,617.24 870.33,617.24 870.33,615.38 873.13,615.38 873.13,613.51 874.53,613.51 874.53,611.18 874.53,608.84 875.93,608.84 875.93,606.51 877.33,606.51 878.73,606.51 878.73,604.17 878.73,602.77 881.06,602.77 883.4,602.77 883.4,601.37 885.73,601.37 885.73,599.97 885.73,598.57 888.07,598.57 890.4,598.57 890.4,596.24 890.4,593.91 892.73,593.91 895.07,593.91 895.07,591.57 895.07,589.24 897.4,589.24 899.27,589.24 899.27,586.9 901.14,586.9 901.14,584.57 901.14,582.24 903,582.24 903,579.9 904.87,579.9 907.67,579.9 907.67,577.1 910.47,577.1 910.47,574.3 910.47,572.43 913.27,572.43 913.27,570.57 916.07,570.57 918.31,570.57 918.31,569.82 918.31,569.07 920.55,569.07 920.55,568.33 922.79,568.33 922.79,567.58 925.03,567.58 925.03,566.83 927.27,566.83 929.76,566.83 929.76,564.97 929.76,563.1 932.25,563.1 932.25,561.23 934.74,561.23 937.23,561.23 937.23,559.99 937.23,558.74 939.72,558.74 942.21,558.74 942.21,557.5 944.08,557.5 944.08,555.01 944.08,552.52 945.94,552.52 945.94,550.03 947.81,550.03 950.61,550.03 950.61,547.23 950.61,544.43 953.41,544.43 953.41,542.09 955.28,542.09 955.28,539.76 957.15,539.76 959.01,539.76 959.01,537.43 959.01,535.09 960.88,535.09 960.88,534.47 963.37,534.47 963.37,533.85 965.86,533.85 968.35,533.85 968.35,533.23 968.35,532.6 970.84,532.6 973.33,532.6 973.33,531.98 973.33,531.36 975.82,531.36 975.82,530.11 978.31,530.11 980.8,530.11 980.8,528.87 983.29,528.87 983.29,527.63 983.29,526.88 985.53,526.88 985.53,526.13 987.77,526.13 987.77,525.38 990.01,525.38 992.25,525.38 992.25,524.64 992.25,523.89 994.49,523.89 996.98,523.89 996.98,522.65 999.47,522.65 999.47,521.4 999.47,520.16 1001.96,520.16 1001.96,517.67 1003.2,517.67 1004.45,517.67 1004.45,515.18 1005.69,515.18 1005.69,512.69 1008.18,512.69 1008.18,510.82 1008.18,508.95 1010.67,508.95 1010.67,507.09 1013.16,507.09 1013.16,505.97 1015.4,505.97 1017.64,505.97 1017.64,504.85 1017.64,503.73 1019.88,503.73 1019.88,502.61 1022.12,502.61 1022.12,501.49 1024.36,501.49 1024.36,500.37 1026.6,500.37 1026.6,499.25 1028.84,499.25 1031.08,499.25 1031.08,498.13 1031.08,497.01 1033.32,497.01 1033.32,495.88 1035.56,495.88 1038.05,495.88 1038.05,494.95 1040.54,494.95 1040.54,494.02 1043.03,494.02 1043.03,493.08 1043.03,492.15 1045.52,492.15 1048.01,492.15 1048.01,491.22 1050.5,491.22 1050.5,490.28 1050.5,488.79 1052.74,488.79 1054.98,488.79 1054.98,487.3 1057.22,487.3 1057.22,485.8 1059.46,485.8 1059.46,484.31 1061.7,484.31 1061.7,482.82 1061.7,481.32 1063.94,481.32 1063.94,479.83 1066.18,479.83 1066.18,478.33 1068.42,478.33 1068.42,476.84 1070.66,476.84 1072.91,476.84 1072.91,475.35 1072.91,473.48 1075.39,473.48 1077.88,473.48 1077.88,471.61 1077.88,469.75 1080.37,469.75 1082.86,469.75 1082.86,468.81 1085.35,468.81 1085.35,467.88 1087.84,467.88 1087.84,466.95 1090.33,466.95 1090.33,466.01 1092.82,466.01 1092.82,465.08 1095.31,465.08 1095.31,464.14 1095.31,462.9 1097.8,462.9 1100.29,462.9 1100.29,461.66 1100.29,460.41 1102.78,460.41 1102.78,459.17 1105.27,459.17 1107.76,459.17 1107.76,457.92 1110.25,457.92 1110.25,456.68 1110.25,455.87 1112.74,455.87 1115.23,455.87 1115.23,455.06 1117.71,455.06 1117.71,454.25 1117.71,453.44 1120.2,453.44 1120.2,452.63 1122.69,452.63 1125.18,452.63 1125.18,451.82" fill="none" stroke="#3a7dbf" stroke-width="3.2" stroke-linejoin="miter"/>
<polyline points="707.33,870.04 707.33,867.74 707.89,867.74 707.89,865.44 708.45,865.44 709.01,865.44 709.01,863.14 709.01,860.83 709.57,860.83 710.13,860.83 710.13,858.53 710.13,856.23 710.69,856.23 710.69,853.99 711.07,853.99 711.44,853.99 711.44,851.75 711.44,849.51 711.81,849.51 711.81,847.27 712.19,847.27 712.19,845.03 712.56,845.03 712.56,842.69 713.5,842.69 713.5,840.36 714.43,840.36 715.36,840.36 715.36,838.02 715.36,835.69 716.3,835.69 716.3,833.36 716.76,833.36 717.23,833.36 717.23,831.02 717.7,831.02 717.7,828.69 718.16,828.69 718.16,826.36 718.16,824.02 718.63,824.02 719.1,824.02 719.1,821.69 719.1,819.35 719.56,819.35 720.03,819.35 720.03,817.02 720.03,814.53 721.9,814.53 721.9,812.04 723.76,812.04 723.76,809.55 725.63,809.55 725.63,807.68 729.37,807.68 730.11,807.68 730.11,805.07 730.11,802.46 730.86,802.46 731.61,802.46 731.61,799.84 732.35,799.84 732.35,797.23 732.35,794.62 733.1,794.62 733.85,794.62 733.85,792.37 733.85,790.13 734.59,790.13 734.59,787.89 735.34,787.89 735.34,785.65 736.09,785.65 736.83,785.65 736.83,783.41 736.83,780.8 737.58,780.8 737.58,778.19 738.33,778.19 739.07,778.19 739.07,775.57 739.07,772.96 739.82,772.96 739.82,770.34 740.57,770.34 743.37,770.34 743.37,768.48 746.17,768.48 746.17,766.61 746.17,764.12 747.41,764.12 748.66,764.12 748.66,761.63 749.9,761.63 749.9,759.14 751.02,759.14 751.02,756.9 752.14,756.9 752.14,754.66 752.14,752.42 753.26,752.42 754.38,752.42 754.38,750.18 754.38,747.94 755.5,747.94 755.5,745.45 756.75,745.45 757.99,745.45 757.99,742.96 757.99,740.47 759.24,740.47 759.24,738.23 760.36,738.23 760.36,735.99 761.48,735.99 762.6,735.99 762.6,733.75 763.72,733.75 763.72,731.51 764.84,731.51 764.84,729.27 765.96,729.27 765.96,727.03 765.96,724.79 767.08,724.79 768.2,724.79 768.2,722.55 769.32,722.55 769.32,720.31 770.44,720.31 770.44,718.07 770.44,715.27 773.24,715.27 776.04,715.27 776.04,712.46 778.84,712.46 778.84,709.66 778.84,706.86 781.64,706.86 782.89,706.86 782.89,704.37 782.89,701.88 784.13,701.88 785.38,701.88 785.38,699.4 785.75,699.4 785.75,697.15 786.12,697.15 786.12,694.91 786.5,694.91 786.5,692.67 786.5,690.43 786.87,690.43 786.87,688.19 787.24,688.19 790.04,688.19 790.04,686.33 790.04,684.46 792.85,684.46 792.85,682.12 793.78,682.12 793.78,679.79 794.71,679.79 794.71,677.46 795.65,677.46 795.65,675.12 796.58,675.12 797.82,675.12 797.82,672.63 797.82,670.14 799.07,670.14 799.07,667.65 800.31,667.65 800.31,665.32 801.71,665.32 803.11,665.32 803.11,662.99 803.11,660.65 804.51,660.65 804.51,658.32 805.91,658.32 808.72,658.32 808.72,656.45 811.52,656.45 811.52,654.59 813.01,654.59 813.01,652.35 814.5,652.35 814.5,650.1 814.5,647.86 816,647.86 816,645.62 817.49,645.62 817.49,643.38 818.98,643.38 820.85,643.38 820.85,641.05 822.72,641.05 822.72,638.72 822.72,636.38 824.59,636.38 824.59,634.05 826.45,634.05 826.45,631.71 828.32,631.71 828.32,629.38 830.19,629.38 830.19,627.05 832.05,627.05 833.92,627.05 833.92,624.71 833.92,622.22 835.17,622.22 835.17,619.73 836.41,619.73 836.41,617.24 837.65,617.24 837.65,614.91 838.59,614.91 839.52,614.91 839.52,612.58 840.46,612.58 840.46,610.24 841.39,610.24 841.39,607.91 843.26,607.91 843.26,605.42 845.12,605.42 845.12,602.93 846.99,602.93 846.99,600.44 846.99,599.51 849.32,599.51 851.66,599.51 851.66,598.57 853.99,598.57 853.99,597.64 856.33,597.64 856.33,596.71 858.82,596.71 858.82,594.84 858.82,592.97 861.3,592.97 861.3,591.11 863.79,591.11 863.79,589.61 866.03,589.61 868.27,589.61 868.27,588.12 868.27,586.62 870.52,586.62 870.52,585.13 872.76,585.13 872.76,583.64 875,583.64 875,579.9 878.73,579.9 878.73,578.04 881.22,578.04 881.22,576.17 883.71,576.17 883.71,574.3 886.2,574.3 886.2,573.18 888.44,573.18 888.44,572.06 890.68,572.06 890.68,570.94 892.92,570.94 892.92,569.82 895.16,569.82 897.4,569.82 897.4,568.7 899.64,568.7 899.64,567.58 899.64,566.46 901.88,566.46 901.88,565.34 904.12,565.34 904.12,564.22 906.36,564.22 906.36,563.1 908.6,563.1 908.6,561.23 911.09,561.23 913.58,561.23 913.58,559.37 916.07,559.37 916.07,557.5 916.07,555.63 918.56,555.63 918.56,553.76 921.05,553.76 921.05,551.9 923.54,551.9 923.54,550.03 926.03,550.03 926.03,548.16 928.52,548.16 928.52,546.3 931.01,546.3 933.5,546.3 933.5,543.81 933.5,541.32 935.99,541.32 935.99,538.83 938.48,538.83 940.97,538.83 940.97,536.96 943.46,536.96 943.46,535.09 943.46,533.23 945.94,533.23 948.19,533.23 948.19,532.11 948.19,530.99 950.43,530.99 952.67,530.99 952.67,529.87 954.91,529.87 954.91,528.75 957.15,528.75 957.15,527.63 959.39,527.63 959.39,526.5 959.39,525.38 961.63,525.38 961.63,524.26 963.87,524.26 963.87,523.14 966.11,523.14 968.35,523.14 968.35,522.02 970.84,522.02 970.84,520.16 973.33,520.16 973.33,518.29 973.33,516.42 975.82,516.42 975.82,515.3 978.06,515.3 980.3,515.3 980.3,514.18 982.54,514.18 982.54,513.06 984.78,513.06 984.78,511.94 987.02,511.94 987.02,510.82 989.51,510.82 989.51,509.58 992,509.58 992,508.33 992,507.09 994.49,507.09 996.98,507.09 996.98,504.6 996.98,502.11 999.47,502.11 999.47,499.62 1001.96,499.62 1001.96,498.5 1004.2,498.5 1004.2,497.38 1006.44,497.38 1006.44,496.26 1008.68,496.26 1010.92,496.26 1010.92,495.14 1013.16,495.14 1013.16,494.02 1013.16,493.08 1015.65,493.08 1018.14,493.08 1018.14,492.15 1020.63,492.15 1020.63,491.22 1023.12,491.22 1023.12,490.28 1023.12,489.35 1025.61,489.35 1025.61,488.42 1028.1,488.42 1028.1,487.17 1030.59,487.17 1030.59,485.93 1033.07,485.93 1033.07,484.68 1035.56,484.68 1038.05,484.68 1038.05,483.44 1040.54,483.44 1040.54,482.19 1043.03,482.19 1043.03,480.95 1043.03,480.01 1045.52,480.01 1048.01,480.01 1048.01,479.08 1050.5,479.08 1050.5,478.15 1050.5,477.21 1052.99,477.21 1055.48,477.21 1055.48,476.28 1057.97,476.28 1057.97,475.35 1060.46,475.35 1060.46,474.1 1062.95,474.1 1062.95,472.86 1062.95,471.61 1065.44,471.61 1065.44,470.99 1067.93,470.99 1070.42,470.99 1070.42,470.37 1070.42,469.75 1072.91,469.75 1075.39,469.75 1075.39,469.12 1077.88,469.12 1077.88,468.5 1077.88,467.88 1080.37,467.88 1080.37,466.76 1082.61,466.76 1084.85,466.76 1084.85,465.64 1087.09,465.64 1087.09,464.52 1087.09,463.4 1089.34,463.4 1089.34,462.28 1091.58,462.28 1091.58,461.53 1093.82,461.53 1096.06,461.53 1096.06,460.78 1098.3,460.78 1098.3,460.04 1098.3,459.29 1100.54,459.29 1102.78,459.29 1102.78,458.54 1105.02,458.54 1105.02,457.8 1107.26,457.8 1107.26,457.05 1107.26,456.3 1109.5,456.3 1111.74,456.3 1111.74,455.56 1111.74,454.81 1113.98,454.81 1113.98,454.21 1116.22,454.21 1118.46,454.21 1118.46,453.61 1120.7,453.61 1120.7,453.02 1122.94,453.02 1122.94,452.42 1125.18,452.42 1125.18,451.82" fill="none" stroke="#e3202a" stroke-width="3.2" stroke-linejoin="miter"/>
<rect x="691" y="435.4" width="451" height="451.5" fill="none" stroke="#4a4a4a" stroke-width="2"/>
<line x1="678.7" y1="451.8" x2="691" y2="451.8" stroke="#231f20" stroke-width="1.8" />
<text x="666.8" y="458.4" font-size="20" text-anchor="end">1.0</text>
<line x1="678.7" y1="535.44" x2="691" y2="535.44" stroke="#231f20" stroke-width="1.8" />
<text x="666.8" y="542.04" font-size="20" text-anchor="end">0.8</text>
<line x1="678.7" y1="619.08" x2="691" y2="619.08" stroke="#231f20" stroke-width="1.8" />
<text x="666.8" y="625.68" font-size="20" text-anchor="end">0.6</text>
<line x1="678.7" y1="702.72" x2="691" y2="702.72" stroke="#231f20" stroke-width="1.8" />
<text x="666.8" y="709.32" font-size="20" text-anchor="end">0.4</text>
<line x1="678.7" y1="786.36" x2="691" y2="786.36" stroke="#231f20" stroke-width="1.8" />
<text x="666.8" y="792.96" font-size="20" text-anchor="end">0.2</text>
<line x1="678.7" y1="870" x2="691" y2="870" stroke="#231f20" stroke-width="1.8" />
<text x="666.8" y="876.6" font-size="20" text-anchor="end">0</text>
<line x1="707.3" y1="886.9" x2="707.3" y2="899.7" stroke="#231f20" stroke-width="1.8" />
<text x="707.3" y="925.5" font-size="20" text-anchor="middle">1.0</text>
<line x1="790.88" y1="886.9" x2="790.88" y2="899.7" stroke="#231f20" stroke-width="1.8" />
<text x="790.88" y="925.5" font-size="20" text-anchor="middle">0.8</text>
<line x1="874.46" y1="886.9" x2="874.46" y2="899.7" stroke="#231f20" stroke-width="1.8" />
<text x="874.46" y="925.5" font-size="20" text-anchor="middle">0.6</text>
<line x1="958.04" y1="886.9" x2="958.04" y2="899.7" stroke="#231f20" stroke-width="1.8" />
<text x="958.04" y="925.5" font-size="20" text-anchor="middle">0.4</text>
<line x1="1041.62" y1="886.9" x2="1041.62" y2="899.7" stroke="#231f20" stroke-width="1.8" />
<text x="1041.62" y="925.5" font-size="20" text-anchor="middle">0.2</text>
<line x1="1125.2" y1="886.9" x2="1125.2" y2="899.7" stroke="#231f20" stroke-width="1.8" />
<text x="1125.2" y="925.5" font-size="20" text-anchor="middle">0</text>
<text x="901.5" y="962" text-anchor="middle" textLength="101.5" lengthAdjust="spacingAndGlyphs">Specificity</text>
<text x="608.5" y="662" text-anchor="middle" textLength="101" lengthAdjust="spacingAndGlyphs" transform="rotate(-90 608.5 662)">Sensitivity</text>
<text x="731.2" y="518.3" fill="#e3202a" textLength="64" lengthAdjust="spacingAndGlyphs">Base +</text>
<text x="731.2" y="543.3" fill="#e3202a" textLength="128.5" lengthAdjust="spacingAndGlyphs">metabolomic</text>
<text x="731.2" y="568" fill="#e3202a" textLength="90" lengthAdjust="spacingAndGlyphs">signature</text>
<text x="731.2" y="593" fill="#e3202a" textLength="61" lengthAdjust="spacingAndGlyphs">model</text>
<text x="921" y="611.6" text-anchor="middle" fill="#3a7dbf" textLength="46" lengthAdjust="spacingAndGlyphs">Base</text>
<text x="921" y="635.9" text-anchor="middle" fill="#3a7dbf" textLength="61" lengthAdjust="spacingAndGlyphs">model</text>
<text x="1006.4" y="714.3" text-anchor="middle" fill="#231f20" textLength="194" lengthAdjust="spacingAndGlyphs">Example: prediction</text>
<text x="1006.4" y="738.6" text-anchor="middle" fill="#231f20" textLength="130" lengthAdjust="spacingAndGlyphs">in ARIC-Black</text>
<line x1="858.2" y1="829.3" x2="887" y2="829.3" stroke="#3a7dbf" stroke-width="4.2" />
<text x="901.1" y="836.5" textLength="221.1" lengthAdjust="spacingAndGlyphs">Model 0 (AUC = 0.652)</text>
<line x1="858.2" y1="863" x2="887" y2="863" stroke="#e3202a" stroke-width="4.2" />
<text x="901.1" y="870.2" textLength="235.3" lengthAdjust="spacingAndGlyphs">Model 2.1 (AUC = 0.686)</text>
<text x="946" y="763" textLength="113" lengthAdjust="spacingAndGlyphs"><tspan font-style="italic">P</tspan> = 3.2 × 10</text><text x="1059.5" y="754.5" font-size="15">−4</text>
<text x="0.5" y="1017.6" font-size="40" font-weight="bold" stroke="#000" stroke-width="1.4">d</text>
<circle cx="146.69" cy="1419.36" r="6.3" fill="#4ea832"/>
<circle cx="146.69" cy="1412.92" r="6.3" fill="#ea7135"/>
<circle cx="146.69" cy="1401.11" r="6.3" fill="#a24a02"/>
<circle cx="146.69" cy="1403.26" r="6.3" fill="#040e6e"/>
<circle cx="146.69" cy="1396.82" r="6.3" fill="#17a0da"/>
<circle cx="146.69" cy="1361.4" r="6.3" fill="#196c28"/>
<circle cx="146.69" cy="1325.97" r="6.3" fill="#1d5e80"/>
<circle cx="146.69" cy="1274.1" r="6.3" fill="#a12f9c"/>
<circle cx="190.7" cy="1419.36" r="6.3" fill="#4ea832"/>
<circle cx="190.7" cy="1410.41" r="6.3" fill="#ea7135"/>
<circle cx="190.7" cy="1363.9" r="6.3" fill="#a24a02"/>
<circle cx="190.7" cy="1417.21" r="6.3" fill="#040e6e"/>
<circle cx="190.7" cy="1380.72" r="6.3" fill="#17a0da"/>
<circle cx="190.7" cy="1339.21" r="6.3" fill="#196c28"/>
<circle cx="190.7" cy="1288.41" r="6.3" fill="#1d5e80"/>
<circle cx="190.7" cy="1211.84" r="6.3" fill="#a12f9c"/>
<circle cx="234.35" cy="1419.36" r="6.3" fill="#4ea832"/>
<circle cx="234.35" cy="1405.04" r="6.3" fill="#ea7135"/>
<circle cx="234.35" cy="1361.75" r="6.3" fill="#a24a02"/>
<circle cx="234.35" cy="1393.24" r="6.3" fill="#040e6e"/>
<circle cx="234.35" cy="1358.53" r="6.3" fill="#17a0da"/>
<circle cx="234.35" cy="1309.52" r="6.3" fill="#196c28"/>
<circle cx="234.35" cy="1283.4" r="6.3" fill="#1d5e80"/>
<circle cx="234.35" cy="1168.55" r="6.3" fill="#a12f9c"/>
<circle cx="279.07" cy="1411.48" r="6.3" fill="#4ea832"/>
<circle cx="279.07" cy="1386.44" r="6.3" fill="#ea7135"/>
<circle cx="279.07" cy="1361.4" r="6.3" fill="#a24a02"/>
<circle cx="279.07" cy="1397.53" r="6.3" fill="#040e6e"/>
<circle cx="279.07" cy="1356.39" r="6.3" fill="#17a0da"/>
<circle cx="279.07" cy="1241.9" r="6.3" fill="#196c28"/>
<circle cx="279.07" cy="1229.37" r="6.3" fill="#1d5e80"/>
<circle cx="279.07" cy="1200.75" r="6.3" fill="#a12f9c"/>
<circle cx="323.08" cy="1397.53" r="6.3" fill="#4ea832"/>
<circle cx="323.08" cy="1384.29" r="6.3" fill="#ea7135"/>
<circle cx="323.08" cy="1334.56" r="6.3" fill="#a24a02"/>
<circle cx="323.08" cy="1392.52" r="6.3" fill="#040e6e"/>
<circle cx="323.08" cy="1337.78" r="6.3" fill="#17a0da"/>
<circle cx="323.08" cy="1273.38" r="6.3" fill="#196c28"/>
<circle cx="323.08" cy="1240.47" r="6.3" fill="#1d5e80"/>
<circle cx="323.08" cy="1186.08" r="6.3" fill="#a12f9c"/>
<circle cx="366.73" cy="1367.48" r="6.3" fill="#ea7135"/>
<circle cx="366.73" cy="1359.25" r="6.3" fill="#a24a02"/>
<circle cx="366.73" cy="1377.85" r="6.3" fill="#040e6e"/>
<circle cx="366.73" cy="1304.51" r="6.3" fill="#17a0da"/>
<circle cx="366.73" cy="1302" r="6.3" fill="#196c28"/>
<circle cx="366.73" cy="1136.35" r="6.3" fill="#1d5e80"/>
<circle cx="366.73" cy="1113.81" r="6.3" fill="#a12f9c"/>
<circle cx="411.09" cy="1392.16" r="6.3" fill="#4ea832"/>
<circle cx="411.09" cy="1352.81" r="6.3" fill="#ea7135"/>
<circle cx="411.09" cy="1307.73" r="6.3" fill="#a24a02"/>
<circle cx="411.09" cy="1347.8" r="6.3" fill="#040e6e"/>
<circle cx="411.09" cy="1289.48" r="6.3" fill="#17a0da"/>
<circle cx="411.09" cy="1167.84" r="6.3" fill="#196c28"/>
<circle cx="411.09" cy="1125.62" r="6.3" fill="#1d5e80"/>
<circle cx="411.09" cy="1118.46" r="6.3" fill="#a12f9c"/>
<circle cx="454.74" cy="1367.12" r="6.3" fill="#4ea832"/>
<circle cx="454.74" cy="1314.53" r="6.3" fill="#ea7135"/>
<circle cx="454.74" cy="1312.02" r="6.3" fill="#a24a02"/>
<circle cx="454.74" cy="1293.42" r="6.3" fill="#040e6e"/>
<circle cx="454.74" cy="1251.2" r="6.3" fill="#17a0da"/>
<circle cx="454.74" cy="1185.01" r="6.3" fill="#196c28"/>
<circle cx="454.74" cy="1147.08" r="6.3" fill="#1d5e80"/>
<circle cx="454.74" cy="1070.16" r="6.3" fill="#a12f9c"/>
<circle cx="498.75" cy="1356.39" r="6.3" fill="#4ea832"/>
<circle cx="498.75" cy="1274.1" r="6.3" fill="#ea7135"/>
<circle cx="498.75" cy="1295.56" r="6.3" fill="#a24a02"/>
<circle cx="498.75" cy="1278.75" r="6.3" fill="#040e6e"/>
<circle cx="498.75" cy="1222.93" r="6.3" fill="#17a0da"/>
<circle cx="498.75" cy="1096.99" r="6.3" fill="#196c28"/>
<circle cx="498.75" cy="1065.87" r="6.3" fill="#1d5e80"/>
<circle cx="498.75" cy="1026.51" r="6.3" fill="#a12f9c"/>
<circle cx="543.11" cy="1267.66" r="6.3" fill="#4ea832"/>
<circle cx="543.11" cy="1198.6" r="6.3" fill="#ea7135"/>
<circle cx="543.11" cy="1280.54" r="6.3" fill="#a24a02"/>
<circle cx="543.11" cy="1166.05" r="6.3" fill="#040e6e"/>
<circle cx="543.11" cy="1154.6" r="6.3" fill="#17a0da"/>
<circle cx="543.11" cy="1170.7" r="6.3" fill="#196c28"/>
<circle cx="543.11" cy="1055.49" r="6.3" fill="#1d5e80"/>
<circle cx="543.11" cy="1046.19" r="6.3" fill="#a12f9c"/>
<path d="M146.69,1326.78 C148.97,1326.88 155.8,1327.33 160.36,1327.38 C164.92,1327.44 169.47,1327.34 174.03,1327.11 C178.59,1326.88 183.14,1326.51 187.7,1326.01 C192.26,1325.51 196.81,1324.87 201.37,1324.1 C205.93,1323.34 210.48,1322.45 215.04,1321.44 C219.6,1320.43 224.15,1319.29 228.71,1318.05 C233.27,1316.8 237.82,1315.44 242.38,1313.97 C246.94,1312.5 251.49,1310.92 256.05,1309.24 C260.6,1307.56 265.16,1305.78 269.72,1303.9 C274.27,1302.03 278.83,1300.05 283.39,1297.99 C287.94,1295.93 292.5,1293.77 297.06,1291.53 C301.61,1289.3 306.17,1286.98 310.73,1284.58 C315.28,1282.19 319.84,1279.71 324.4,1277.17 C328.95,1274.63 333.51,1272.01 338.07,1269.33 C342.62,1266.65 347.18,1263.9 351.74,1261.1 C356.29,1258.3 360.85,1255.43 365.41,1252.52 C369.96,1249.61 374.52,1246.64 379.08,1243.63 C383.63,1240.62 388.19,1237.56 392.75,1234.46 C397.3,1231.37 401.86,1228.23 406.42,1225.06 C410.97,1221.89 415.53,1218.68 420.09,1215.45 C424.64,1212.22 429.2,1208.96 433.75,1205.68 C438.31,1202.41 442.87,1199.1 447.42,1195.79 C451.98,1192.47 456.54,1189.14 461.09,1185.8 C465.65,1182.47 470.21,1179.12 474.76,1175.77 C479.32,1172.42 483.88,1169.06 488.43,1165.72 C492.99,1162.37 497.55,1159.02 502.1,1155.69 C506.66,1152.36 511.22,1149.03 515.77,1145.73 C520.33,1142.42 524.89,1139.13 529.44,1135.86 C534,1132.59 540.83,1127.75 543.11,1126.13 L543.11,1215.23 C540.83,1216.88 534,1221.94 529.44,1225.16 C524.89,1228.38 520.33,1231.51 515.77,1234.56 C511.22,1237.61 506.66,1240.58 502.1,1243.47 C497.55,1246.36 492.99,1249.17 488.43,1251.91 C483.88,1254.66 479.32,1257.32 474.76,1259.93 C470.21,1262.54 465.65,1265.07 461.09,1267.55 C456.54,1270.03 451.98,1272.45 447.42,1274.82 C442.87,1277.18 438.31,1279.49 433.75,1281.75 C429.2,1284.02 424.64,1286.23 420.09,1288.4 C415.53,1290.57 410.97,1292.69 406.42,1294.78 C401.86,1296.88 397.3,1298.92 392.75,1300.94 C388.19,1302.97 383.63,1304.95 379.08,1306.91 C374.52,1308.88 369.96,1310.81 365.41,1312.73 C360.85,1314.64 356.29,1316.53 351.74,1318.42 C347.18,1320.3 342.62,1322.16 338.07,1324.01 C333.51,1325.87 328.95,1327.71 324.4,1329.56 C319.84,1331.4 315.28,1333.23 310.73,1335.08 C306.17,1336.92 301.61,1338.76 297.06,1340.61 C292.5,1342.46 287.94,1344.31 283.39,1346.19 C278.83,1348.06 274.27,1349.94 269.72,1351.84 C265.16,1353.75 260.6,1355.66 256.05,1357.61 C251.49,1359.56 246.94,1361.52 242.38,1363.53 C237.82,1365.53 233.27,1367.55 228.71,1369.62 C224.15,1371.69 219.6,1373.79 215.04,1375.93 C210.48,1378.08 205.93,1380.26 201.37,1382.49 C196.81,1384.72 192.26,1387 187.7,1389.33 C183.14,1391.66 178.59,1394.04 174.03,1396.49 C169.47,1398.93 164.92,1401.42 160.36,1403.99 C155.8,1406.56 148.97,1410.56 146.69,1411.88 Z" fill="#d4d4d4" fill-opacity="0.4"/>
<path d="M146.69,1370.65 C148.97,1369.92 155.8,1367.74 160.36,1366.26 C164.92,1364.79 169.47,1363.29 174.03,1361.78 C178.59,1360.26 183.14,1358.73 187.7,1357.18 C192.26,1355.62 196.81,1354.05 201.37,1352.45 C205.93,1350.86 210.48,1349.24 215.04,1347.6 C219.6,1345.96 224.15,1344.3 228.71,1342.61 C233.27,1340.93 237.82,1339.22 242.38,1337.48 C246.94,1335.74 251.49,1333.98 256.05,1332.19 C260.6,1330.4 265.16,1328.59 269.72,1326.74 C274.27,1324.9 278.83,1323.02 283.39,1321.12 C287.94,1319.22 292.5,1317.29 297.06,1315.32 C301.61,1313.36 306.17,1311.36 310.73,1309.34 C315.28,1307.31 319.84,1305.25 324.4,1303.16 C328.95,1301.06 333.51,1298.94 338.07,1296.77 C342.62,1294.61 347.18,1292.41 351.74,1290.18 C356.29,1287.94 360.85,1285.67 365.41,1283.36 C369.96,1281.05 374.52,1278.71 379.08,1276.32 C383.63,1273.93 388.19,1271.51 392.75,1269.04 C397.3,1266.58 401.86,1264.07 406.42,1261.52 C410.97,1258.97 415.53,1256.38 420.09,1253.75 C424.64,1251.11 429.2,1248.43 433.75,1245.71 C438.31,1242.99 442.87,1240.22 447.42,1237.41 C451.98,1234.59 456.54,1231.73 461.09,1228.83 C465.65,1225.92 470.21,1222.96 474.76,1219.96 C479.32,1216.96 483.88,1213.9 488.43,1210.8 C492.99,1207.7 497.55,1204.55 502.1,1201.34 C506.66,1198.14 511.22,1194.88 515.77,1191.57 C520.33,1188.26 524.89,1184.9 529.44,1181.48 C534,1178.06 540.83,1172.8 543.11,1171.07" fill="none" stroke="#404040" stroke-width="4"/>
<rect x="116.7" y="993" width="28.1" height="192.6" fill="#efefef" />
<circle cx="130.4" cy="1006.3" r="9" fill="#a12f9c"/>
<text x="155" y="1013.6" font-size="21" textLength="106.2" lengthAdjust="spacingAndGlyphs">ARIC-Black</text>
<circle cx="130.4" cy="1030.3" r="9" fill="#1d5e80"/>
<text x="155" y="1037.6" font-size="21" textLength="107.1" lengthAdjust="spacingAndGlyphs">ARIC-white</text>
<circle cx="130.4" cy="1053.9" r="9" fill="#4ea832"/>
<text x="155" y="1061.2" font-size="21" textLength="50.1" lengthAdjust="spacingAndGlyphs">HPFS</text>
<circle cx="130.4" cy="1076.9" r="9" fill="#17a0da"/>
<text x="155" y="1084.2" font-size="21" textLength="41.3" lengthAdjust="spacingAndGlyphs">NHS</text>
<circle cx="130.4" cy="1100.5" r="9" fill="#ea7135"/>
<text x="155" y="1107.8" font-size="21" textLength="53.1" lengthAdjust="spacingAndGlyphs">NHS2</text>
<circle cx="130.4" cy="1124.3" r="9" fill="#196c28"/>
<text x="155" y="1131.6" font-size="21" textLength="99.7" lengthAdjust="spacingAndGlyphs">PREDIMED</text>
<circle cx="130.4" cy="1146.7" r="9" fill="#a24a02"/>
<text x="155" y="1154" font-size="21" textLength="39.9" lengthAdjust="spacingAndGlyphs">SOL</text>
<circle cx="130.4" cy="1170.5" r="9" fill="#040e6e"/>
<text x="155" y="1177.8" font-size="21" textLength="38.3" lengthAdjust="spacingAndGlyphs">WHI</text>
<line x1="103.3" y1="992.5" x2="103.3" y2="1449" stroke="#231f20" stroke-width="1.8" />
<line x1="102.4" y1="1448.1" x2="587.8" y2="1448.1" stroke="#231f20" stroke-width="1.8" />
<line x1="92" y1="1017.1" x2="103.3" y2="1017.1" stroke="#231f20" stroke-width="1.8" />
<text x="82" y="1023.7" font-size="20" text-anchor="end">0.6</text>
<line x1="92" y1="1174.8" x2="103.3" y2="1174.8" stroke="#231f20" stroke-width="1.8" />
<text x="82" y="1181.4" font-size="20" text-anchor="end">0.4</text>
<line x1="92" y1="1318.4" x2="103.3" y2="1318.4" stroke="#231f20" stroke-width="1.8" />
<text x="82" y="1325" font-size="20" text-anchor="end">0.2</text>
<line x1="92" y1="1427.5" x2="103.3" y2="1427.5" stroke="#231f20" stroke-width="1.8" />
<text x="82" y="1434.1" font-size="20" text-anchor="end">0</text>
<rect x="111.4" y="1460.4" width="24.6" height="29.8" fill="#d9d9d9" />
<line x1="123.9" y1="1448" x2="123.9" y2="1454.5" stroke="#231f20" stroke-width="1.8" />
<text x="123.9" y="1482.3" font-size="21" text-anchor="middle">0</text>
<rect x="223.2" y="1460.4" width="24.6" height="29.8" fill="#d9d9d9" />
<line x1="235.2" y1="1448" x2="235.2" y2="1454.5" stroke="#231f20" stroke-width="1.8" />
<text x="235.2" y="1482.3" font-size="21" text-anchor="middle">25</text>
<rect x="331.6" y="1460.4" width="24.4" height="29.8" fill="#d9d9d9" />
<line x1="343.8" y1="1448" x2="343.8" y2="1454.5" stroke="#231f20" stroke-width="1.8" />
<text x="343.8" y="1482.3" font-size="21" text-anchor="middle">50</text>
<rect x="443.2" y="1460.4" width="24.6" height="29.8" fill="#d9d9d9" />
<line x1="455.2" y1="1448" x2="455.2" y2="1454.5" stroke="#231f20" stroke-width="1.8" />
<text x="455.2" y="1482.3" font-size="21" text-anchor="middle">75</text>
<rect x="542" y="1460.4" width="45.9" height="29.8" fill="#d9d9d9" />
<line x1="563.1" y1="1448" x2="563.1" y2="1454.5" stroke="#231f20" stroke-width="1.8" />
<text x="563.1" y="1482.3" font-size="21" text-anchor="middle">100</text>
<text x="345.2" y="1520.5" text-anchor="middle" textLength="365" lengthAdjust="spacingAndGlyphs">Metabolomic signature percentile (%)</text>
<text x="31.5" y="1220.6" text-anchor="middle" textLength="191" lengthAdjust="spacingAndGlyphs" transform="rotate(-90 31.5 1220.6)">Incident rate of T2D</text>
<text x="607.5" y="1017.6" font-size="40" font-weight="bold" stroke="#000" stroke-width="1.4">e</text>
<rect x="718" y="999.7" width="248.4" height="80.5" fill="#d9d9d9" />
<text x="842.2" y="1021.4" text-anchor="middle" textLength="193" lengthAdjust="spacingAndGlyphs">MV adjusted model;</text>
<text x="842.2" y="1045.6" text-anchor="middle" textLength="129" lengthAdjust="spacingAndGlyphs">metabolomic</text>
<text x="842.2" y="1069.6" text-anchor="middle" textLength="215.4" lengthAdjust="spacingAndGlyphs">signature and T2D risk</text>
<line x1="702.3" y1="1000.8" x2="702.3" y2="1481.8" stroke="#231f20" stroke-width="1.8" />
<line x1="693.5" y1="1480.9" x2="702.3" y2="1480.9" stroke="#231f20" stroke-width="1.8" />
<text x="681.5" y="1487.5" font-size="20" text-anchor="end">0</text>
<line x1="693.5" y1="1406.83" x2="702.3" y2="1406.83" stroke="#231f20" stroke-width="1.8" />
<text x="681.5" y="1413.43" font-size="20" text-anchor="end">1.0</text>
<line x1="693.5" y1="1332.76" x2="702.3" y2="1332.76" stroke="#231f20" stroke-width="1.8" />
<text x="681.5" y="1339.36" font-size="20" text-anchor="end">2.0</text>
<line x1="693.5" y1="1258.69" x2="702.3" y2="1258.69" stroke="#231f20" stroke-width="1.8" />
<text x="681.5" y="1265.29" font-size="20" text-anchor="end">3.0</text>
<line x1="693.5" y1="1184.62" x2="702.3" y2="1184.62" stroke="#231f20" stroke-width="1.8" />
<text x="681.5" y="1191.22" font-size="20" text-anchor="end">4.0</text>
<line x1="693.5" y1="1110.55" x2="702.3" y2="1110.55" stroke="#231f20" stroke-width="1.8" />
<text x="681.5" y="1117.15" font-size="20" text-anchor="end">5.0</text>
<line x1="693.5" y1="1036.48" x2="702.3" y2="1036.48" stroke="#231f20" stroke-width="1.8" />
<text x="681.5" y="1043.08" font-size="20" text-anchor="end">6.0</text>
<line x1="702.3" y1="1406.8" x2="1160" y2="1406.8" stroke="#111" stroke-width="1.8" />
<rect x="717.6" y="1399.53" width="14.6" height="14.6" fill="#f34e4c" stroke="#5a3a3a" stroke-width="1.3" />
<rect x="712.7" y="1457" width="24.3" height="30.3" fill="#d9d9d9" />
<text x="724.9" y="1479.5" font-size="21" text-anchor="middle">1</text>
<line x1="770.7" y1="1346.83" x2="770.7" y2="1401.13" stroke="#5a5a5a" stroke-width="1.6" />
<line x1="768.7" y1="1346.83" x2="772.7" y2="1346.83" stroke="#5a5a5a" stroke-width="1.6" />
<line x1="768.7" y1="1401.13" x2="772.7" y2="1401.13" stroke="#5a5a5a" stroke-width="1.6" />
<rect x="763.4" y="1369.9" width="14.6" height="14.6" fill="#f34e4c" stroke="#5a3a3a" stroke-width="1.3" />
<rect x="758.5" y="1457" width="24.3" height="30.3" fill="#d9d9d9" />
<text x="770.7" y="1479.5" font-size="21" text-anchor="middle">2</text>
<line x1="816.5" y1="1319.43" x2="816.5" y2="1383.13" stroke="#5a5a5a" stroke-width="1.6" />
<line x1="814.5" y1="1319.43" x2="818.5" y2="1319.43" stroke="#5a5a5a" stroke-width="1.6" />
<line x1="814.5" y1="1383.13" x2="818.5" y2="1383.13" stroke="#5a5a5a" stroke-width="1.6" />
<rect x="809.2" y="1347.68" width="14.6" height="14.6" fill="#f34e4c" stroke="#5a3a3a" stroke-width="1.3" />
<rect x="804.3" y="1457" width="24.3" height="30.3" fill="#d9d9d9" />
<text x="816.5" y="1479.5" font-size="21" text-anchor="middle">3</text>
<line x1="862.3" y1="1310.54" x2="862.3" y2="1376.46" stroke="#5a5a5a" stroke-width="1.6" />
<line x1="860.3" y1="1310.54" x2="864.3" y2="1310.54" stroke="#5a5a5a" stroke-width="1.6" />
<line x1="860.3" y1="1376.46" x2="864.3" y2="1376.46" stroke="#5a5a5a" stroke-width="1.6" />
<rect x="855" y="1340.27" width="14.6" height="14.6" fill="#f34e4c" stroke="#5a3a3a" stroke-width="1.3" />
<rect x="850.1" y="1457" width="24.3" height="30.3" fill="#d9d9d9" />
<text x="862.3" y="1479.5" font-size="21" text-anchor="middle">4</text>
<line x1="908.1" y1="1299.43" x2="908.1" y2="1369.8" stroke="#5a5a5a" stroke-width="1.6" />
<line x1="906.1" y1="1299.43" x2="910.1" y2="1299.43" stroke="#5a5a5a" stroke-width="1.6" />
<line x1="906.1" y1="1369.8" x2="910.1" y2="1369.8" stroke="#5a5a5a" stroke-width="1.6" />
<rect x="900.8" y="1331.39" width="14.6" height="14.6" fill="#f34e4c" stroke="#5a3a3a" stroke-width="1.3" />
<rect x="895.9" y="1457" width="24.3" height="30.3" fill="#d9d9d9" />
<text x="908.1" y="1479.5" font-size="21" text-anchor="middle">5</text>
<line x1="953.9" y1="1240.91" x2="953.9" y2="1332.02" stroke="#5a5a5a" stroke-width="1.6" />
<line x1="951.9" y1="1240.91" x2="955.9" y2="1240.91" stroke="#5a5a5a" stroke-width="1.6" />
<line x1="951.9" y1="1332.02" x2="955.9" y2="1332.02" stroke="#5a5a5a" stroke-width="1.6" />
<rect x="946.6" y="1283.98" width="14.6" height="14.6" fill="#f34e4c" stroke="#5a3a3a" stroke-width="1.3" />
<rect x="941.7" y="1457" width="24.3" height="30.3" fill="#d9d9d9" />
<text x="953.9" y="1479.5" font-size="21" text-anchor="middle">6</text>
<line x1="999.7" y1="1200.17" x2="999.7" y2="1304.61" stroke="#5a5a5a" stroke-width="1.6" />
<line x1="997.7" y1="1200.17" x2="1001.7" y2="1200.17" stroke="#5a5a5a" stroke-width="1.6" />
<line x1="997.7" y1="1304.61" x2="1001.7" y2="1304.61" stroke="#5a5a5a" stroke-width="1.6" />
<rect x="992.4" y="1251.39" width="14.6" height="14.6" fill="#f34e4c" stroke="#5a3a3a" stroke-width="1.3" />
<rect x="987.5" y="1457" width="24.3" height="30.3" fill="#d9d9d9" />
<text x="999.7" y="1479.5" font-size="21" text-anchor="middle">7</text>
<line x1="1045.5" y1="1143.88" x2="1045.5" y2="1268.32" stroke="#5a5a5a" stroke-width="1.6" />
<line x1="1043.5" y1="1143.88" x2="1047.5" y2="1143.88" stroke="#5a5a5a" stroke-width="1.6" />
<line x1="1043.5" y1="1268.32" x2="1047.5" y2="1268.32" stroke="#5a5a5a" stroke-width="1.6" />
<rect x="1038.2" y="1206.21" width="14.6" height="14.6" fill="#f34e4c" stroke="#5a3a3a" stroke-width="1.3" />
<rect x="1033.3" y="1457" width="24.3" height="30.3" fill="#d9d9d9" />
<text x="1045.5" y="1479.5" font-size="21" text-anchor="middle">8</text>
<line x1="1091.3" y1="1055" x2="1091.3" y2="1212.03" stroke="#5a5a5a" stroke-width="1.6" />
<line x1="1089.3" y1="1055" x2="1093.3" y2="1055" stroke="#5a5a5a" stroke-width="1.6" />
<line x1="1089.3" y1="1212.03" x2="1093.3" y2="1212.03" stroke="#5a5a5a" stroke-width="1.6" />
<rect x="1084" y="1135.1" width="14.6" height="14.6" fill="#f34e4c" stroke="#5a3a3a" stroke-width="1.3" />
<rect x="1079.1" y="1457" width="24.3" height="30.3" fill="#d9d9d9" />
<text x="1091.3" y="1479.5" font-size="21" text-anchor="middle">9</text>
<line x1="1137.1" y1="1008.33" x2="1137.1" y2="1184.62" stroke="#5a5a5a" stroke-width="1.6" />
<line x1="1135.1" y1="1008.33" x2="1139.1" y2="1008.33" stroke="#5a5a5a" stroke-width="1.6" />
<line x1="1135.1" y1="1184.62" x2="1139.1" y2="1184.62" stroke="#5a5a5a" stroke-width="1.6" />
<rect x="1129.8" y="1099.55" width="14.6" height="14.6" fill="#f34e4c" stroke="#5a3a3a" stroke-width="1.3" />
<rect x="1124.9" y="1457" width="24.3" height="30.3" fill="#d9d9d9" />
<text x="1137.1" y="1479.5" font-size="21" text-anchor="middle">10</text>
<text x="931.3" y="1513.5" text-anchor="middle" textLength="299.8" lengthAdjust="spacingAndGlyphs">Metabolomic signature deciles</text>
<text x="624" y="1240.2" text-anchor="middle" textLength="274" lengthAdjust="spacingAndGlyphs" transform="rotate(-90 624 1240.2)">RR for incident T2D (95% CI)</text>
<text x="1201" y="33" font-size="40" font-weight="bold" stroke="#000" stroke-width="1.4">f</text>
<path d="M1708.5,44.7 C1912.35,44.7 1912.35,246.55 2116.2,246.55" fill="none" stroke="rgb(253,215,216)" stroke-width="45" stroke-opacity="0.92"/>
<path d="M1708.5,94.25 C1912.35,94.25 1912.35,271.6 2116.2,271.6" fill="none" stroke="rgb(253,215,216)" stroke-width="5.1" stroke-opacity="0.92"/>
<path d="M1708.5,122.2 C1912.35,122.2 1912.35,281.75 2116.2,281.75" fill="none" stroke="rgb(253,215,216)" stroke-width="15.2" stroke-opacity="0.92"/>
<path d="M1708.5,148.99 C1912.35,148.99 1912.35,292.04 2116.2,292.04" fill="none" stroke="rgb(253,215,216)" stroke-width="5.39" stroke-opacity="0.92"/>
<path d="M1708.5,180.05 C1912.35,180.05 1912.35,299.59 2116.2,299.59" fill="none" stroke="rgb(253,215,216)" stroke-width="9.7" stroke-opacity="0.92"/>
<path d="M1708.5,212.7 C1912.35,212.7 1912.35,315.64 2116.2,315.64" fill="none" stroke="rgb(253,215,216)" stroke-width="22.4" stroke-opacity="0.92"/>
<path d="M1708.5,249.25 C1912.35,249.25 1912.35,338.99 2116.2,338.99" fill="none" stroke="rgb(253,215,216)" stroke-width="24.3" stroke-opacity="0.92"/>
<path d="M1708.5,286.15 C1912.35,286.15 1912.35,361.69 2116.2,361.69" fill="none" stroke="rgb(253,215,216)" stroke-width="21.1" stroke-opacity="0.92"/>
<path d="M1708.5,325.56 C1912.35,325.56 1912.35,384.6 2116.2,384.6" fill="none" stroke="rgb(253,215,216)" stroke-width="24.73" stroke-opacity="0.92"/>
<path d="M1708.5,367.85 C1912.35,367.85 1912.35,402.91 2116.2,402.91" fill="none" stroke="rgb(253,215,216)" stroke-width="11.9" stroke-opacity="0.92"/>
<path d="M1708.5,397.12 C1912.35,397.12 1912.35,414.78 2116.2,414.78" fill="none" stroke="rgb(253,215,216)" stroke-width="11.83" stroke-opacity="0.92"/>
<path d="M1708.5,431.6 C1912.35,431.6 1912.35,430.8 2116.2,430.8" fill="none" stroke="rgb(253,215,216)" stroke-width="20.2" stroke-opacity="0.92"/>
<path d="M1708.5,460.54 C1912.35,460.54 1912.35,444.24 2116.2,444.24" fill="none" stroke="rgb(253,215,216)" stroke-width="6.68" stroke-opacity="0.92"/>
<path d="M1708.5,490.1 C1912.35,490.1 1912.35,456.57 2116.2,456.57" fill="none" stroke="rgb(253,215,216)" stroke-width="18" stroke-opacity="0.92"/>
<path d="M1708.5,523.1 C1912.35,523.1 1912.35,473.57 2116.2,473.57" fill="none" stroke="rgb(253,215,216)" stroke-width="16" stroke-opacity="0.92"/>
<path d="M1708.5,555.08 C1912.35,555.08 1912.35,489.96 2116.2,489.96" fill="none" stroke="rgb(253,215,216)" stroke-width="16.76" stroke-opacity="0.92"/>
<path d="M1708.5,594.9 C1912.35,594.9 1912.35,507.54 2116.2,507.54" fill="none" stroke="rgb(253,215,216)" stroke-width="18.4" stroke-opacity="0.92"/>
<path d="M1708.5,627.5 C1912.35,627.5 1912.35,523.64 2116.2,523.64" fill="none" stroke="rgb(253,215,216)" stroke-width="13.8" stroke-opacity="0.92"/>
<path d="M1708.5,659.35 C1912.35,659.35 1912.35,540.89 2116.2,540.89" fill="none" stroke="rgb(253,215,216)" stroke-width="20.7" stroke-opacity="0.92"/>
<path d="M1708.5,688.45 C1912.35,688.45 1912.35,561.29 2116.2,561.29" fill="none" stroke="rgb(253,215,216)" stroke-width="20.1" stroke-opacity="0.92"/>
<path d="M1708.5,723.29 C1912.35,723.29 1912.35,582.83 2116.2,582.83" fill="none" stroke="rgb(253,215,216)" stroke-width="22.98" stroke-opacity="0.92"/>
<path d="M1708.5,768.67 C1912.35,768.67 1912.35,607.6 2116.2,607.6" fill="none" stroke="rgb(253,215,216)" stroke-width="26.55" stroke-opacity="0.92"/>
<path d="M1708.5,806.45 C1912.35,806.45 1912.35,625.42 2116.2,625.42" fill="none" stroke="rgb(253,215,216)" stroke-width="9.1" stroke-opacity="0.92"/>
<path d="M1708.5,836.31 C1912.35,836.31 1912.35,632.78 2116.2,632.78" fill="none" stroke="rgb(253,215,216)" stroke-width="5.61" stroke-opacity="0.92"/>
<path d="M1708.5,866.66 C1912.35,866.66 1912.35,637.75 2116.2,637.75" fill="none" stroke="rgb(253,215,216)" stroke-width="4.32" stroke-opacity="0.92"/>
<path d="M1708.5,900.57 C1912.35,900.57 1912.35,643.78 2116.2,643.78" fill="none" stroke="rgb(253,215,216)" stroke-width="7.74" stroke-opacity="0.92"/>
<path d="M1708.5,929.9 C1912.35,929.9 1912.35,656.75 2116.2,656.75" fill="none" stroke="rgb(253,215,216)" stroke-width="18.21" stroke-opacity="0.92"/>
<path d="M1708.5,961.74 C1912.35,961.74 1912.35,1108.49 2116.2,1108.49" fill="none" stroke="rgb(200,219,239)" stroke-width="4.87" stroke-opacity="0.88"/>
<path d="M1708.5,990.19 C1912.35,990.19 1912.35,1112.61 2116.2,1112.61" fill="none" stroke="rgb(200,219,239)" stroke-width="3.37" stroke-opacity="0.88"/>
<path d="M1708.5,1023.25 C1912.35,1023.25 1912.35,1119.75 2116.2,1119.75" fill="none" stroke="rgb(200,219,239)" stroke-width="10.9" stroke-opacity="0.88"/>
<path d="M1708.5,1050.8 C1912.35,1050.8 1912.35,1129.5 2116.2,1129.5" fill="none" stroke="rgb(200,219,239)" stroke-width="8.6" stroke-opacity="0.88"/>
<path d="M1708.5,1084.95 C1912.35,1084.95 1912.35,1144.65 2116.2,1144.65" fill="none" stroke="rgb(200,219,239)" stroke-width="21.7" stroke-opacity="0.88"/>
<path d="M1708.5,1110.33 C1912.35,1110.33 1912.35,1159.03 2116.2,1159.03" fill="none" stroke="rgb(200,219,239)" stroke-width="7.07" stroke-opacity="0.88"/>
<path d="M1708.5,1142.65 C1912.35,1142.65 1912.35,1172.01 2116.2,1172.01" fill="none" stroke="rgb(200,219,239)" stroke-width="18.9" stroke-opacity="0.88"/>
<path d="M1708.5,1170.4 C1912.35,1170.4 1912.35,1185.26 2116.2,1185.26" fill="none" stroke="rgb(200,219,239)" stroke-width="7.6" stroke-opacity="0.88"/>
<path d="M1708.5,1202.18 C1912.35,1202.18 1912.35,1191.34 2116.2,1191.34" fill="none" stroke="rgb(200,219,239)" stroke-width="4.55" stroke-opacity="0.88"/>
<path d="M1708.5,1236.6 C1912.35,1236.6 1912.35,1201.62 2116.2,1201.62" fill="none" stroke="rgb(200,219,239)" stroke-width="16" stroke-opacity="0.88"/>
<path d="M1708.5,1268.45 C1912.35,1268.45 1912.35,1214.47 2116.2,1214.47" fill="none" stroke="rgb(200,219,239)" stroke-width="9.7" stroke-opacity="0.88"/>
<path d="M1708.5,1302 C1912.35,1302 1912.35,1227.32 2116.2,1227.32" fill="none" stroke="rgb(200,219,239)" stroke-width="16" stroke-opacity="0.88"/>
<path d="M1708.5,1333.9 C1912.35,1333.9 1912.35,1239.02 2116.2,1239.02" fill="none" stroke="rgb(200,219,239)" stroke-width="7.4" stroke-opacity="0.88"/>
<path d="M1708.5,1358.99 C1912.35,1358.99 1912.35,1247.91 2116.2,1247.91" fill="none" stroke="rgb(200,219,239)" stroke-width="10.39" stroke-opacity="0.88"/>
<path d="M1708.5,1391.68 C1912.35,1391.68 1912.35,1257.68 2116.2,1257.68" fill="none" stroke="rgb(200,219,239)" stroke-width="9.16" stroke-opacity="0.88"/>
<path d="M1708.5,1425.17 C1912.35,1425.17 1912.35,1268.23 2116.2,1268.23" fill="none" stroke="rgb(200,219,239)" stroke-width="11.94" stroke-opacity="0.88"/>
<path d="M1708.5,1457.68 C1912.35,1457.68 1912.35,1276.47 2116.2,1276.47" fill="none" stroke="rgb(200,219,239)" stroke-width="4.55" stroke-opacity="0.88"/>
<path d="M1708.5,1491.2 C1912.35,1491.2 1912.35,1289.35 2116.2,1289.35" fill="none" stroke="rgb(200,219,239)" stroke-width="21.2" stroke-opacity="0.88"/>
<path d="M1253.3,239.29 C1457.15,239.29 1457.15,41.89 1661,41.89" fill="none" stroke="rgb(253,215,216)" stroke-width="39.39" stroke-opacity="0.92"/>
<path d="M1253.3,260.19 C1457.15,260.19 1457.15,92.91 1661,92.91" fill="none" stroke="rgb(253,215,216)" stroke-width="2.41" stroke-opacity="0.92"/>
<path d="M1253.3,265.2 C1457.15,265.2 1457.15,118.4 1661,118.4" fill="none" stroke="rgb(253,215,216)" stroke-width="7.6" stroke-opacity="0.92"/>
<path d="M1253.3,271.37 C1457.15,271.37 1457.15,148.67 1661,148.67" fill="none" stroke="rgb(253,215,216)" stroke-width="4.75" stroke-opacity="0.92"/>
<path d="M1253.3,276.14 C1457.15,276.14 1457.15,177.6 1661,177.6" fill="none" stroke="rgb(253,215,216)" stroke-width="4.8" stroke-opacity="0.92"/>
<path d="M1253.3,283.76 C1457.15,283.76 1457.15,206.72 1661,206.72" fill="none" stroke="rgb(253,215,216)" stroke-width="10.44" stroke-opacity="0.92"/>
<path d="M1253.3,296.75 C1457.15,296.75 1457.15,244.87 1661,244.87" fill="none" stroke="rgb(253,215,216)" stroke-width="15.55" stroke-opacity="0.92"/>
<path d="M1253.3,309.07 C1457.15,309.07 1457.15,280.15 1661,280.15" fill="none" stroke="rgb(253,215,216)" stroke-width="9.09" stroke-opacity="0.92"/>
<path d="M1253.3,324.71 C1457.15,324.71 1457.15,324.29 1661,324.29" fill="none" stroke="rgb(253,215,216)" stroke-width="22.17" stroke-opacity="0.92"/>
<path d="M1253.3,339.21 C1457.15,339.21 1457.15,365.32 1661,365.32" fill="none" stroke="rgb(253,215,216)" stroke-width="6.83" stroke-opacity="0.92"/>
<path d="M1253.3,347.97 C1457.15,347.97 1457.15,396.54 1661,396.54" fill="none" stroke="rgb(253,215,216)" stroke-width="10.68" stroke-opacity="0.92"/>
<path d="M1253.3,359.22 C1457.15,359.22 1457.15,427.42 1661,427.42" fill="none" stroke="rgb(253,215,216)" stroke-width="11.84" stroke-opacity="0.92"/>
<path d="M1253.3,367.8 C1457.15,367.8 1457.15,459.86 1661,459.86" fill="none" stroke="rgb(253,215,216)" stroke-width="5.31" stroke-opacity="0.92"/>
<path d="M1253.3,374.36 C1457.15,374.36 1457.15,485.01 1661,485.01" fill="none" stroke="rgb(253,215,216)" stroke-width="7.82" stroke-opacity="0.92"/>
<path d="M1253.3,382.54 C1457.15,382.54 1457.15,519.36 1661,519.36" fill="none" stroke="rgb(253,215,216)" stroke-width="8.52" stroke-opacity="0.92"/>
<path d="M1253.3,392.93 C1457.15,392.93 1457.15,552.82 1661,552.82" fill="none" stroke="rgb(253,215,216)" stroke-width="12.25" stroke-opacity="0.92"/>
<path d="M1253.3,404.64 C1457.15,404.64 1457.15,591.29 1661,591.29" fill="none" stroke="rgb(253,215,216)" stroke-width="11.18" stroke-opacity="0.92"/>
<path d="M1253.3,413.23 C1457.15,413.23 1457.15,623.6 1661,623.6" fill="none" stroke="rgb(253,215,216)" stroke-width="6" stroke-opacity="0.92"/>
<path d="M1253.3,421.28 C1457.15,421.28 1457.15,654.06 1661,654.06" fill="none" stroke="rgb(253,215,216)" stroke-width="10.11" stroke-opacity="0.92"/>
<path d="M1253.3,430.72 C1457.15,430.72 1457.15,682.78 1661,682.78" fill="none" stroke="rgb(253,215,216)" stroke-width="8.76" stroke-opacity="0.92"/>
<path d="M1253.3,445.22 C1457.15,445.22 1457.15,721.92 1661,721.92" fill="none" stroke="rgb(253,215,216)" stroke-width="20.25" stroke-opacity="0.92"/>
<path d="M1253.3,464.66 C1457.15,464.66 1457.15,764.71 1661,764.71" fill="none" stroke="rgb(253,215,216)" stroke-width="18.63" stroke-opacity="0.92"/>
<path d="M1253.3,476.73 C1457.15,476.73 1457.15,804.66 1661,804.66" fill="none" stroke="rgb(253,215,216)" stroke-width="5.53" stroke-opacity="0.92"/>
<path d="M1253.3,482.17 C1457.15,482.17 1457.15,836.17 1661,836.17" fill="none" stroke="rgb(253,215,216)" stroke-width="5.34" stroke-opacity="0.92"/>
<path d="M1253.3,486.69 C1457.15,486.69 1457.15,866.35 1661,866.35" fill="none" stroke="rgb(253,215,216)" stroke-width="3.7" stroke-opacity="0.92"/>
<path d="M1253.3,491.18 C1457.15,491.18 1457.15,899.34 1661,899.34" fill="none" stroke="rgb(253,215,216)" stroke-width="5.27" stroke-opacity="0.92"/>
<path d="M1253.3,500.4 C1457.15,500.4 1457.15,927.39 1661,927.39" fill="none" stroke="rgb(253,215,216)" stroke-width="13.17" stroke-opacity="0.92"/>
<path d="M1253.3,508.36 C1457.15,508.36 1457.15,960.67 1661,960.67" fill="none" stroke="rgb(200,219,239)" stroke-width="2.74" stroke-opacity="0.88"/>
<path d="M1253.3,510.87 C1457.15,510.87 1457.15,989.65 1661,989.65" fill="none" stroke="rgb(200,219,239)" stroke-width="2.3" stroke-opacity="0.88"/>
<path d="M1253.3,513.1 C1457.15,513.1 1457.15,1018.87 1661,1018.87" fill="none" stroke="rgb(200,219,239)" stroke-width="2.14" stroke-opacity="0.88"/>
<path d="M1253.3,515.26 C1457.15,515.26 1457.15,1047.59 1661,1047.59" fill="none" stroke="rgb(200,219,239)" stroke-width="2.19" stroke-opacity="0.88"/>
<path d="M1253.3,518.48 C1457.15,518.48 1457.15,1076.22 1661,1076.22" fill="none" stroke="rgb(200,219,239)" stroke-width="4.24" stroke-opacity="0.88"/>
<path d="M1253.3,523.67 C1457.15,523.67 1457.15,1109.88 1661,1109.88" fill="none" stroke="rgb(200,219,239)" stroke-width="6.16" stroke-opacity="0.88"/>
<path d="M1253.3,528.76 C1457.15,528.76 1457.15,1135.2 1661,1135.2" fill="none" stroke="rgb(200,219,239)" stroke-width="4" stroke-opacity="0.88"/>
<path d="M1253.3,533.45 C1457.15,533.45 1457.15,1169.29 1661,1169.29" fill="none" stroke="rgb(200,219,239)" stroke-width="5.39" stroke-opacity="0.88"/>
<path d="M1253.3,538.01 C1457.15,538.01 1457.15,1201.77 1661,1201.77" fill="none" stroke="rgb(200,219,239)" stroke-width="3.74" stroke-opacity="0.88"/>
<path d="M1253.3,542 C1457.15,542 1457.15,1230.72 1661,1230.72" fill="none" stroke="rgb(200,219,239)" stroke-width="4.24" stroke-opacity="0.88"/>
<path d="M1253.3,545.36 C1457.15,545.36 1457.15,1264.84 1661,1264.84" fill="none" stroke="rgb(200,219,239)" stroke-width="2.49" stroke-opacity="0.88"/>
<path d="M1253.3,548.17 C1457.15,548.17 1457.15,1295.57 1661,1295.57" fill="none" stroke="rgb(200,219,239)" stroke-width="3.14" stroke-opacity="0.88"/>
<path d="M1253.3,550.86 C1457.15,550.86 1457.15,1331.32 1661,1331.32" fill="none" stroke="rgb(200,219,239)" stroke-width="2.24" stroke-opacity="0.88"/>
<path d="M1253.3,556.73 C1457.15,556.73 1457.15,1358.55 1661,1358.55" fill="none" stroke="rgb(200,219,239)" stroke-width="9.51" stroke-opacity="0.88"/>
<path d="M1253.3,565.42 C1457.15,565.42 1457.15,1391.03 1661,1391.03" fill="none" stroke="rgb(200,219,239)" stroke-width="7.86" stroke-opacity="0.88"/>
<path d="M1253.3,572.7 C1457.15,572.7 1457.15,1422.55 1661,1422.55" fill="none" stroke="rgb(200,219,239)" stroke-width="6.71" stroke-opacity="0.88"/>
<path d="M1253.3,578.62 C1457.15,578.62 1457.15,1457.96 1661,1457.96" fill="none" stroke="rgb(200,219,239)" stroke-width="5.11" stroke-opacity="0.88"/>
<path d="M1253.3,584.74 C1457.15,584.74 1457.15,1484.16 1661,1484.16" fill="none" stroke="rgb(200,219,239)" stroke-width="7.13" stroke-opacity="0.88"/>
<path d="M1253.3,674.28 C1457.15,674.28 1457.15,63.16 1661,63.16" fill="none" stroke="rgb(200,219,239)" stroke-width="3.15" stroke-opacity="0.88"/>
<path d="M1253.3,677.26 C1457.15,677.26 1457.15,403.29 1661,403.29" fill="none" stroke="rgb(200,219,239)" stroke-width="2.82" stroke-opacity="0.88"/>
<path d="M1253.3,679.63 C1457.15,679.63 1457.15,434.3 1661,434.3" fill="none" stroke="rgb(200,219,239)" stroke-width="1.92" stroke-opacity="0.88"/>
<path d="M1253.3,681.67 C1457.15,681.67 1457.15,627.67 1661,627.67" fill="none" stroke="rgb(200,219,239)" stroke-width="2.14" stroke-opacity="0.88"/>
<path d="M1253.3,683.48 C1457.15,683.48 1457.15,659.86 1661,659.86" fill="none" stroke="rgb(200,219,239)" stroke-width="1.5" stroke-opacity="0.88"/>
<path d="M1253.3,685 C1457.15,685 1457.15,687.93 1661,687.93" fill="none" stroke="rgb(200,219,239)" stroke-width="1.54" stroke-opacity="0.88"/>
<path d="M1253.3,687.16 C1457.15,687.16 1457.15,775.42 1661,775.42" fill="none" stroke="rgb(200,219,239)" stroke-width="2.78" stroke-opacity="0.88"/>
<path d="M1253.3,689.67 C1457.15,689.67 1457.15,808.55 1661,808.55" fill="none" stroke="rgb(200,219,239)" stroke-width="2.25" stroke-opacity="0.88"/>
<path d="M1253.3,691.82 C1457.15,691.82 1457.15,839.87 1661,839.87" fill="none" stroke="rgb(200,219,239)" stroke-width="2.06" stroke-opacity="0.88"/>
<path d="M1253.3,693.65 C1457.15,693.65 1457.15,1020.74 1661,1020.74" fill="none" stroke="rgb(253,215,216)" stroke-width="1.59" stroke-opacity="0.92"/>
<path d="M1253.3,695.34 C1457.15,695.34 1457.15,1049.59 1661,1049.59" fill="none" stroke="rgb(253,215,216)" stroke-width="1.81" stroke-opacity="0.92"/>
<path d="M1253.3,697.01 C1457.15,697.01 1457.15,1079.09 1661,1079.09" fill="none" stroke="rgb(253,215,216)" stroke-width="1.52" stroke-opacity="0.92"/>
<path d="M1253.3,699.08 C1457.15,699.08 1457.15,1138.52 1661,1138.52" fill="none" stroke="rgb(253,215,216)" stroke-width="2.63" stroke-opacity="0.92"/>
<path d="M1253.3,701.96 C1457.15,701.96 1457.15,1234.4 1661,1234.4" fill="none" stroke="rgb(253,215,216)" stroke-width="3.13" stroke-opacity="0.92"/>
<path d="M1253.3,704.58 C1457.15,704.58 1457.15,1298.19 1661,1298.19" fill="none" stroke="rgb(253,215,216)" stroke-width="2.11" stroke-opacity="0.92"/>
<path d="M1253.3,706.22 C1457.15,706.22 1457.15,1363.9 1661,1363.9" fill="none" stroke="rgb(253,215,216)" stroke-width="1.17" stroke-opacity="0.92"/>
<path d="M1253.3,708.1 C1457.15,708.1 1457.15,1427.2 1661,1427.2" fill="none" stroke="rgb(253,215,216)" stroke-width="2.59" stroke-opacity="0.92"/>
<path d="M1253.3,779.08 C1457.15,779.08 1457.15,66.02 1661,66.02" fill="none" stroke="rgb(200,219,239)" stroke-width="2.56" stroke-opacity="0.88"/>
<path d="M1253.3,781.78 C1457.15,781.78 1457.15,213.36 1661,213.36" fill="none" stroke="rgb(200,219,239)" stroke-width="2.83" stroke-opacity="0.88"/>
<path d="M1253.3,784.42 C1457.15,784.42 1457.15,336.6 1661,336.6" fill="none" stroke="rgb(200,219,239)" stroke-width="2.44" stroke-opacity="0.88"/>
<path d="M1253.3,787.07 C1457.15,787.07 1457.15,490.35 1661,490.35" fill="none" stroke="rgb(200,219,239)" stroke-width="2.85" stroke-opacity="0.88"/>
<path d="M1253.3,789.18 C1457.15,789.18 1457.15,559.64 1661,559.64" fill="none" stroke="rgb(200,219,239)" stroke-width="1.38" stroke-opacity="0.88"/>
<path d="M1253.3,790.62 C1457.15,790.62 1457.15,661.36 1661,661.36" fill="none" stroke="rgb(200,219,239)" stroke-width="1.5" stroke-opacity="0.88"/>
<path d="M1253.3,792.67 C1457.15,792.67 1457.15,778.1 1661,778.1" fill="none" stroke="rgb(200,219,239)" stroke-width="2.6" stroke-opacity="0.88"/>
<path d="M1253.3,794.66 C1457.15,794.66 1457.15,902.67 1661,902.67" fill="none" stroke="rgb(200,219,239)" stroke-width="1.39" stroke-opacity="0.88"/>
<path d="M1253.3,796.04 C1457.15,796.04 1457.15,991.49 1661,991.49" fill="none" stroke="rgb(253,215,216)" stroke-width="1.37" stroke-opacity="0.92"/>
<path d="M1253.3,797.59 C1457.15,797.59 1457.15,1051.36 1661,1051.36" fill="none" stroke="rgb(253,215,216)" stroke-width="1.74" stroke-opacity="0.92"/>
<path d="M1253.3,799.87 C1457.15,799.87 1457.15,1081.26 1661,1081.26" fill="none" stroke="rgb(253,215,216)" stroke-width="2.82" stroke-opacity="0.92"/>
<path d="M1253.3,802.34 C1457.15,802.34 1457.15,1114.02 1661,1114.02" fill="none" stroke="rgb(253,215,216)" stroke-width="2.11" stroke-opacity="0.92"/>
<path d="M1253.3,804.81 C1457.15,804.81 1457.15,1141.25 1661,1141.25" fill="none" stroke="rgb(253,215,216)" stroke-width="2.84" stroke-opacity="0.92"/>
<path d="M1253.3,807.17 C1457.15,807.17 1457.15,1204.58 1661,1204.58" fill="none" stroke="rgb(253,215,216)" stroke-width="1.88" stroke-opacity="0.92"/>
<path d="M1253.3,809.25 C1457.15,809.25 1457.15,1396.11 1661,1396.11" fill="none" stroke="rgb(253,215,216)" stroke-width="2.29" stroke-opacity="0.92"/>
<path d="M1253.3,812.15 C1457.15,812.15 1457.15,1489.48 1661,1489.48" fill="none" stroke="rgb(253,215,216)" stroke-width="3.5" stroke-opacity="0.92"/>
<path d="M1253.3,890.89 C1457.15,890.89 1457.15,67.79 1661,67.79" fill="none" stroke="rgb(253,215,216)" stroke-width="0.98" stroke-opacity="0.92"/>
<path d="M1253.3,892.91 C1457.15,892.91 1457.15,123.72 1661,123.72" fill="none" stroke="rgb(253,215,216)" stroke-width="3.04" stroke-opacity="0.92"/>
<path d="M1253.3,895.28 C1457.15,895.28 1457.15,338.67 1661,338.67" fill="none" stroke="rgb(253,215,216)" stroke-width="1.71" stroke-opacity="0.92"/>
<path d="M1253.3,896.86 C1457.15,896.86 1457.15,463.24 1661,463.24" fill="none" stroke="rgb(253,215,216)" stroke-width="1.45" stroke-opacity="0.92"/>
<path d="M1253.3,898.96 C1457.15,898.96 1457.15,493.15 1661,493.15" fill="none" stroke="rgb(253,215,216)" stroke-width="2.74" stroke-opacity="0.92"/>
<path d="M1253.3,901.25 C1457.15,901.25 1457.15,524.54 1661,524.54" fill="none" stroke="rgb(253,215,216)" stroke-width="1.84" stroke-opacity="0.92"/>
<path d="M1253.3,903.67 C1457.15,903.67 1457.15,598.38 1661,598.38" fill="none" stroke="rgb(253,215,216)" stroke-width="3.01" stroke-opacity="0.92"/>
<path d="M1253.3,906.83 C1457.15,906.83 1457.15,690.34 1661,690.34" fill="none" stroke="rgb(253,215,216)" stroke-width="3.3" stroke-opacity="0.92"/>
<path d="M1253.3,909.43 C1457.15,909.43 1457.15,780.35 1661,780.35" fill="none" stroke="rgb(253,215,216)" stroke-width="1.91" stroke-opacity="0.92"/>
<path d="M1253.3,911.38 C1457.15,911.38 1457.15,869.2 1661,869.2" fill="none" stroke="rgb(253,215,216)" stroke-width="2" stroke-opacity="0.92"/>
<path d="M1253.3,913.57 C1457.15,913.57 1457.15,963.22 1661,963.22" fill="none" stroke="rgb(200,219,239)" stroke-width="2.36" stroke-opacity="0.88"/>
<path d="M1253.3,915.8 C1457.15,915.8 1457.15,1022.58 1661,1022.58" fill="none" stroke="rgb(200,219,239)" stroke-width="2.09" stroke-opacity="0.88"/>
<path d="M1253.3,918.24 C1457.15,918.24 1457.15,1084.07 1661,1084.07" fill="none" stroke="rgb(200,219,239)" stroke-width="2.8" stroke-opacity="0.88"/>
<path d="M1253.3,920.61 C1457.15,920.61 1457.15,1172.95 1661,1172.95" fill="none" stroke="rgb(200,219,239)" stroke-width="1.93" stroke-opacity="0.88"/>
<path d="M1253.3,923.12 C1457.15,923.12 1457.15,1366.03 1661,1366.03" fill="none" stroke="rgb(200,219,239)" stroke-width="3.1" stroke-opacity="0.88"/>
<path d="M1253.3,925.54 C1457.15,925.54 1457.15,1398.11 1661,1398.11" fill="none" stroke="rgb(200,219,239)" stroke-width="1.73" stroke-opacity="0.88"/>
<path d="M1253.3,986.19 C1457.15,986.19 1457.15,68.78 1661,68.78" fill="none" stroke="rgb(253,215,216)" stroke-width="0.98" stroke-opacity="0.92"/>
<path d="M1253.3,987.66 C1457.15,987.66 1457.15,95.08 1661,95.08" fill="none" stroke="rgb(253,215,216)" stroke-width="1.95" stroke-opacity="0.92"/>
<path d="M1253.3,989.35 C1457.15,989.35 1457.15,253.37 1661,253.37" fill="none" stroke="rgb(253,215,216)" stroke-width="1.44" stroke-opacity="0.92"/>
<path d="M1253.3,991.28 C1457.15,991.28 1457.15,285.9 1661,285.9" fill="none" stroke="rgb(253,215,216)" stroke-width="2.41" stroke-opacity="0.92"/>
<path d="M1253.3,993.46 C1457.15,993.46 1457.15,495.5 1661,495.5" fill="none" stroke="rgb(253,215,216)" stroke-width="1.96" stroke-opacity="0.92"/>
<path d="M1253.3,996.1 C1457.15,996.1 1457.15,527.12 1661,527.12" fill="none" stroke="rgb(253,215,216)" stroke-width="3.31" stroke-opacity="0.92"/>
<path d="M1253.3,999.31 C1457.15,999.31 1457.15,561.89 1661,561.89" fill="none" stroke="rgb(253,215,216)" stroke-width="3.11" stroke-opacity="0.92"/>
<path d="M1253.3,1001.63 C1457.15,1001.63 1457.15,600.65 1661,600.65" fill="none" stroke="rgb(253,215,216)" stroke-width="1.54" stroke-opacity="0.92"/>
<path d="M1253.3,1003.04 C1457.15,1003.04 1457.15,732.69 1661,732.69" fill="none" stroke="rgb(253,215,216)" stroke-width="1.28" stroke-opacity="0.92"/>
<path d="M1253.3,1004.78 C1457.15,1004.78 1457.15,1116.17 1661,1116.17" fill="none" stroke="rgb(200,219,239)" stroke-width="2.19" stroke-opacity="0.88"/>
<path d="M1253.3,1006.6 C1457.15,1006.6 1457.15,1174.63 1661,1174.63" fill="none" stroke="rgb(200,219,239)" stroke-width="1.43" stroke-opacity="0.88"/>
<path d="M1253.3,1008.75 C1457.15,1008.75 1457.15,1206.96 1661,1206.96" fill="none" stroke="rgb(200,219,239)" stroke-width="2.88" stroke-opacity="0.88"/>
<path d="M1253.3,1011.06 C1457.15,1011.06 1457.15,1266.96 1661,1266.96" fill="none" stroke="rgb(200,219,239)" stroke-width="1.74" stroke-opacity="0.88"/>
<path d="M1253.3,1013.67 C1457.15,1013.67 1457.15,1369.31 1661,1369.31" fill="none" stroke="rgb(200,219,239)" stroke-width="3.47" stroke-opacity="0.88"/>
<path d="M1253.3,1092.06 C1457.15,1092.06 1457.15,71.73 1661,71.73" fill="none" stroke="rgb(200,219,239)" stroke-width="4.92" stroke-opacity="0.88"/>
<path d="M1253.3,1096.19 C1457.15,1096.19 1457.15,216.44 1661,216.44" fill="none" stroke="rgb(200,219,239)" stroke-width="3.33" stroke-opacity="0.88"/>
<path d="M1253.3,1099.2 C1457.15,1099.2 1457.15,288.45 1661,288.45" fill="none" stroke="rgb(200,219,239)" stroke-width="2.69" stroke-opacity="0.88"/>
<path d="M1253.3,1101.93 C1457.15,1101.93 1457.15,340.91 1661,340.91" fill="none" stroke="rgb(200,219,239)" stroke-width="2.77" stroke-opacity="0.88"/>
<path d="M1253.3,1104.32 C1457.15,1104.32 1457.15,369.73 1661,369.73" fill="none" stroke="rgb(200,219,239)" stroke-width="2" stroke-opacity="0.88"/>
<path d="M1253.3,1106.37 C1457.15,1106.37 1457.15,405.75 1661,405.75" fill="none" stroke="rgb(200,219,239)" stroke-width="2.1" stroke-opacity="0.88"/>
<path d="M1253.3,1108.44 C1457.15,1108.44 1457.15,464.98 1661,464.98" fill="none" stroke="rgb(200,219,239)" stroke-width="2.04" stroke-opacity="0.88"/>
<path d="M1253.3,1110.39 C1457.15,1110.39 1457.15,564.38 1661,564.38" fill="none" stroke="rgb(200,219,239)" stroke-width="1.87" stroke-opacity="0.88"/>
<path d="M1253.3,1112.46 C1457.15,1112.46 1457.15,663.24 1661,663.24" fill="none" stroke="rgb(200,219,239)" stroke-width="2.26" stroke-opacity="0.88"/>
<path d="M1253.3,1115.38 C1457.15,1115.38 1457.15,693.78 1661,693.78" fill="none" stroke="rgb(200,219,239)" stroke-width="3.58" stroke-opacity="0.88"/>
<path d="M1253.3,1119.06 C1457.15,1119.06 1457.15,735.22 1661,735.22" fill="none" stroke="rgb(200,219,239)" stroke-width="3.77" stroke-opacity="0.88"/>
<path d="M1253.3,1122.49 C1457.15,1122.49 1457.15,782.86 1661,782.86" fill="none" stroke="rgb(200,219,239)" stroke-width="3.09" stroke-opacity="0.88"/>
<path d="M1253.3,1124.86 C1457.15,1124.86 1457.15,904.2 1661,904.2" fill="none" stroke="rgb(200,219,239)" stroke-width="1.67" stroke-opacity="0.88"/>
<path d="M1253.3,1126.61 C1457.15,1126.61 1457.15,934.89 1661,934.89" fill="none" stroke="rgb(200,219,239)" stroke-width="1.83" stroke-opacity="0.88"/>
<path d="M1253.3,1129.07 C1457.15,1129.07 1457.15,1087.02 1661,1087.02" fill="none" stroke="rgb(253,215,216)" stroke-width="3.09" stroke-opacity="0.92"/>
<path d="M1253.3,1132.03 C1457.15,1132.03 1457.15,1176.77 1661,1176.77" fill="none" stroke="rgb(253,215,216)" stroke-width="2.84" stroke-opacity="0.92"/>
<path d="M1253.3,1134.72 C1457.15,1134.72 1457.15,1300.52 1661,1300.52" fill="none" stroke="rgb(253,215,216)" stroke-width="2.54" stroke-opacity="0.92"/>
<path d="M1253.3,1136.95 C1457.15,1136.95 1457.15,1399.93 1661,1399.93" fill="none" stroke="rgb(253,215,216)" stroke-width="1.91" stroke-opacity="0.92"/>
<path d="M1253.3,1144.4 C1457.15,1144.4 1457.15,1435 1661,1435" fill="none" stroke="rgb(253,215,216)" stroke-width="13" stroke-opacity="0.92"/>
<path d="M1253.3,1152.65 C1457.15,1152.65 1457.15,1492.98 1661,1492.98" fill="none" stroke="rgb(253,215,216)" stroke-width="3.5" stroke-opacity="0.92"/>
<path d="M1253.3,1237.85 C1457.15,1237.85 1457.15,77.15 1661,77.15" fill="none" stroke="rgb(200,219,239)" stroke-width="5.91" stroke-opacity="0.88"/>
<path d="M1253.3,1241.98 C1457.15,1241.98 1457.15,126.41 1661,126.41" fill="none" stroke="rgb(253,215,216)" stroke-width="2.35" stroke-opacity="0.92"/>
<path d="M1253.3,1244.33 C1457.15,1244.33 1457.15,152.22 1661,152.22" fill="none" stroke="rgb(200,219,239)" stroke-width="2.35" stroke-opacity="0.88"/>
<path d="M1253.3,1247.26 C1457.15,1247.26 1457.15,181.74 1661,181.74" fill="none" stroke="rgb(253,215,216)" stroke-width="3.49" stroke-opacity="0.92"/>
<path d="M1253.3,1250.27 C1457.15,1250.27 1457.15,219.37 1661,219.37" fill="none" stroke="rgb(253,215,216)" stroke-width="2.53" stroke-opacity="0.92"/>
<path d="M1253.3,1253.42 C1457.15,1253.42 1457.15,255.98 1661,255.98" fill="none" stroke="rgb(253,215,216)" stroke-width="3.77" stroke-opacity="0.92"/>
<path d="M1253.3,1257.22 C1457.15,1257.22 1457.15,291.71 1661,291.71" fill="none" stroke="rgb(253,215,216)" stroke-width="3.83" stroke-opacity="0.92"/>
<path d="M1253.3,1260.89 C1457.15,1260.89 1457.15,344.05 1661,344.05" fill="none" stroke="rgb(253,215,216)" stroke-width="3.5" stroke-opacity="0.92"/>
<path d="M1253.3,1263.31 C1457.15,1263.31 1457.15,371.4 1661,371.4" fill="none" stroke="rgb(200,219,239)" stroke-width="1.34" stroke-opacity="0.88"/>
<path d="M1253.3,1265.73 C1457.15,1265.73 1457.15,437.01 1661,437.01" fill="none" stroke="rgb(253,215,216)" stroke-width="3.5" stroke-opacity="0.92"/>
<path d="M1253.3,1269.22 C1457.15,1269.22 1457.15,567.05 1661,567.05" fill="none" stroke="rgb(253,215,216)" stroke-width="3.49" stroke-opacity="0.92"/>
<path d="M1253.3,1272.79 C1457.15,1272.79 1457.15,630.57 1661,630.57" fill="none" stroke="rgb(253,215,216)" stroke-width="3.65" stroke-opacity="0.92"/>
<path d="M1253.3,1275.78 C1457.15,1275.78 1457.15,665.53 1661,665.53" fill="none" stroke="rgb(253,215,216)" stroke-width="2.32" stroke-opacity="0.92"/>
<path d="M1253.3,1279.44 C1457.15,1279.44 1457.15,739.6 1661,739.6" fill="none" stroke="rgb(253,215,216)" stroke-width="5" stroke-opacity="0.92"/>
<path d="M1253.3,1284.94 C1457.15,1284.94 1457.15,787.4 1661,787.4" fill="none" stroke="rgb(253,215,216)" stroke-width="6" stroke-opacity="0.92"/>
<path d="M1253.3,1288.87 C1457.15,1288.87 1457.15,905.97 1661,905.97" fill="none" stroke="rgb(253,215,216)" stroke-width="1.87" stroke-opacity="0.92"/>
<path d="M1253.3,1294.31 C1457.15,1294.31 1457.15,940.3 1661,940.3" fill="none" stroke="rgb(253,215,216)" stroke-width="9" stroke-opacity="0.92"/>
<path d="M1253.3,1300.81 C1457.15,1300.81 1457.15,966.4 1661,966.4" fill="none" stroke="rgb(253,215,216)" stroke-width="4" stroke-opacity="0.92"/>
<path d="M1253.3,1304.12 C1457.15,1304.12 1457.15,993.48 1661,993.48" fill="none" stroke="rgb(200,219,239)" stroke-width="2.63" stroke-opacity="0.88"/>
<path d="M1253.3,1306.16 C1457.15,1306.16 1457.15,1024.35 1661,1024.35" fill="none" stroke="rgb(253,215,216)" stroke-width="1.44" stroke-opacity="0.92"/>
<path d="M1253.3,1308.24 C1457.15,1308.24 1457.15,1118.63 1661,1118.63" fill="none" stroke="rgb(200,219,239)" stroke-width="2.73" stroke-opacity="0.88"/>
<path d="M1253.3,1311.17 C1457.15,1311.17 1457.15,1144.23 1661,1144.23" fill="none" stroke="rgb(200,219,239)" stroke-width="3.12" stroke-opacity="0.88"/>
<path d="M1253.3,1314.04 C1457.15,1314.04 1457.15,1179.5 1661,1179.5" fill="none" stroke="rgb(200,219,239)" stroke-width="2.61" stroke-opacity="0.88"/>
<path d="M1253.3,1316.99 C1457.15,1316.99 1457.15,1237.61 1661,1237.61" fill="none" stroke="rgb(200,219,239)" stroke-width="3.3" stroke-opacity="0.88"/>
<path d="M1253.3,1319.76 C1457.15,1319.76 1457.15,1268.95 1661,1268.95" fill="none" stroke="rgb(200,219,239)" stroke-width="2.24" stroke-opacity="0.88"/>
<path d="M1253.3,1322.31 C1457.15,1322.31 1457.15,1303.23 1661,1303.23" fill="none" stroke="rgb(253,215,216)" stroke-width="2.87" stroke-opacity="0.92"/>
<path d="M1253.3,1325.1 C1457.15,1325.1 1457.15,1333.78 1661,1333.78" fill="none" stroke="rgb(253,215,216)" stroke-width="2.69" stroke-opacity="0.92"/>
<path d="M1253.3,1327.52 C1457.15,1327.52 1457.15,1372.12 1661,1372.12" fill="none" stroke="rgb(253,215,216)" stroke-width="2.15" stroke-opacity="0.92"/>
<path d="M1253.3,1330.25 C1457.15,1330.25 1457.15,1402.54 1661,1402.54" fill="none" stroke="rgb(253,215,216)" stroke-width="3.32" stroke-opacity="0.92"/>
<path d="M1253.3,1333.61 C1457.15,1333.61 1457.15,1462.21 1661,1462.21" fill="none" stroke="rgb(253,215,216)" stroke-width="3.39" stroke-opacity="0.92"/>
<rect x="1206.75" y="219.45" width="45.8" height="369" fill="#9966ff" stroke="#54388c" stroke-width="1.5" />
<text x="1264.5" y="412.65">BMI</text>
<rect x="1206.75" y="672.55" width="45.8" height="37" fill="#1db961" stroke="#0f6535" stroke-width="1.5" />
<text x="1264.5" y="699.75">PA</text>
<rect x="1206.75" y="777.65" width="45.8" height="36.4" fill="#1db961" stroke="#0f6535" stroke-width="1.5" />
<text x="1264.5" y="804.55">Whole grains</text>
<rect x="1206.75" y="890.25" width="45.8" height="36.3" fill="#9966ff" stroke="#54388c" stroke-width="1.5" />
<text x="1264.5" y="917.1">Red meat</text>
<rect x="1206.75" y="985.55" width="45.8" height="30" fill="#9966ff" stroke="#54388c" stroke-width="1.5" />
<text x="1264.5" y="1009.25">Sugary drinks</text>
<rect x="1206.75" y="1089.45" width="45.8" height="65.1" fill="#1db961" stroke="#0f6535" stroke-width="1.5" />
<text x="1264.5" y="1130.7">Coffee and tea</text>
<rect x="1206.75" y="1234.75" width="45.8" height="100.7" fill="#1db961" stroke="#0f6535" stroke-width="1.5" />
<text x="1264.5" y="1293.8">Wine</text>
<rect x="1661.9" y="22.2" width="45.7" height="57.9" fill="#ff9f1c" stroke="#93601a" stroke-width="1.8" />
<text x="1720" y="56.95" textLength="225" lengthAdjust="spacingAndGlyphs">Metabolomic signature</text>
<rect x="1661.9" y="91.7" width="45.7" height="5.1" fill="#bebebe" stroke="#6a6a6a" stroke-width="1.8" />
<text x="1720" y="101.25">Methionine</text>
<rect x="1661.9" y="114.6" width="45.7" height="15.2" fill="#bebebe" stroke="#6a6a6a" stroke-width="1.8" />
<text x="1720" y="129.2">N4-acetylcytidine</text>
<rect x="1661.9" y="146.3" width="45.7" height="7.1" fill="#bebebe" stroke="#6a6a6a" stroke-width="1.8" />
<text x="1720" y="156.85">Sphingosine-1-phosphate</text>
<rect x="1661.9" y="175.2" width="45.7" height="9.7" fill="#bebebe" stroke="#6a6a6a" stroke-width="1.8" />
<text x="1720" y="187.05">Phenylalanine</text>
<rect x="1661.9" y="201.5" width="45.7" height="22.4" fill="#bebebe" stroke="#6a6a6a" stroke-width="1.8" />
<text x="1720" y="219.7">Leucine</text>
<rect x="1661.9" y="237.1" width="45.7" height="24.3" fill="#bebebe" stroke="#6a6a6a" stroke-width="1.8" />
<text x="1720" y="256.25">Isoleucine</text>
<rect x="1661.9" y="275.6" width="45.7" height="21.1" fill="#bebebe" stroke="#6a6a6a" stroke-width="1.8" />
<text x="1720" y="293.15">Valine</text>
<rect x="1661.9" y="313.2" width="45.7" height="32.6" fill="#bebebe" stroke="#6a6a6a" stroke-width="1.8" />
<text x="1720" y="336.5">Glutamate</text>
<rect x="1661.9" y="361.9" width="45.7" height="11.9" fill="#bebebe" stroke="#6a6a6a" stroke-width="1.8" />
<text x="1720" y="374.85">Proline</text>
<rect x="1661.9" y="391.2" width="45.7" height="15.6" fill="#bebebe" stroke="#6a6a6a" stroke-width="1.8" />
<text x="1720" y="406">Alanine</text>
<rect x="1661.9" y="421.5" width="45.7" height="20.2" fill="#bebebe" stroke="#6a6a6a" stroke-width="1.8" />
<text x="1720" y="438.6">Urate</text>
<rect x="1661.9" y="457.2" width="45.7" height="8.8" fill="#bebebe" stroke="#6a6a6a" stroke-width="1.8" />
<text x="1720" y="468.6">Homoarginine</text>
<rect x="1661.9" y="481.1" width="45.7" height="18" fill="#bebebe" stroke="#6a6a6a" stroke-width="1.8" />
<text x="1720" y="497.1">Aconitate</text>
<rect x="1661.9" y="515.1" width="45.7" height="16" fill="#bebebe" stroke="#6a6a6a" stroke-width="1.8" />
<text x="1720" y="530.1">Xanthurenate</text>
<rect x="1661.9" y="546.7" width="45.7" height="22.1" fill="#bebebe" stroke="#6a6a6a" stroke-width="1.8" />
<text x="1720" y="564.75">Alpha-hydroxybutyrate</text>
<rect x="1661.9" y="585.7" width="45.7" height="18.4" fill="#bebebe" stroke="#6a6a6a" stroke-width="1.8" />
<text x="1720" y="601.9">C4-OH carnitine</text>
<rect x="1661.9" y="620.6" width="45.7" height="13.8" fill="#bebebe" stroke="#6a6a6a" stroke-width="1.8" />
<text x="1720" y="634.5">Malate</text>
<rect x="1661.9" y="649" width="45.7" height="20.7" fill="#bebebe" stroke="#6a6a6a" stroke-width="1.8" />
<text x="1720" y="666.35" textLength="308" lengthAdjust="spacingAndGlyphs">8, 11, 14-Icosatrienoate (20:3n6)</text>
<rect x="1661.9" y="678.4" width="45.7" height="20.1" fill="#bebebe" stroke="#6a6a6a" stroke-width="1.8" />
<text x="1720" y="695.45">Adrenate (22:4n6)</text>
<rect x="1661.9" y="711.8" width="45.7" height="30.3" fill="#bebebe" stroke="#6a6a6a" stroke-width="1.8" />
<text x="1720" y="733.95">C34:3 DAG</text>
<rect x="1661.9" y="755.4" width="45.7" height="35" fill="#bebebe" stroke="#6a6a6a" stroke-width="1.8" />
<text x="1720" y="779.9">C34:2 DAG</text>
<rect x="1661.9" y="801.9" width="45.7" height="9.1" fill="#bebebe" stroke="#6a6a6a" stroke-width="1.8" />
<text x="1720" y="813.45">1-methylhistamine</text>
<rect x="1661.9" y="833.5" width="45.7" height="7.4" fill="#bebebe" stroke="#6a6a6a" stroke-width="1.8" />
<text x="1720" y="844.2">Taurodeoxycholate</text>
<rect x="1661.9" y="864.5" width="45.7" height="5.7" fill="#bebebe" stroke="#6a6a6a" stroke-width="1.8" />
<text x="1720" y="874.35">Glycodeoxycholate</text>
<rect x="1661.9" y="896.7" width="45.7" height="10.2" fill="#bebebe" stroke="#6a6a6a" stroke-width="1.8" />
<text x="1720" y="908.8" textLength="225" lengthAdjust="spacingAndGlyphs">C16:0 Ceramide (d18:1)</text>
<rect x="1661.9" y="920.8" width="45.7" height="24" fill="#bebebe" stroke="#6a6a6a" stroke-width="1.8" />
<text x="1720" y="939.8">C34:1 PC</text>
<rect x="1661.9" y="959.3" width="45.7" height="9.1" fill="#bebebe" stroke="#6a6a6a" stroke-width="1.8" />
<text x="1720" y="970.85">Choline</text>
<rect x="1661.9" y="988.5" width="45.7" height="6.3" fill="#bebebe" stroke="#6a6a6a" stroke-width="1.8" />
<text x="1720" y="998.65">Creatinine</text>
<rect x="1661.9" y="1017.8" width="45.7" height="10.9" fill="#bebebe" stroke="#6a6a6a" stroke-width="1.8" />
<text x="1720" y="1030.25">C20:4 LPC</text>
<rect x="1661.9" y="1046.5" width="45.7" height="8.6" fill="#bebebe" stroke="#6a6a6a" stroke-width="1.8" />
<text x="1720" y="1057.8">Alpha-phosphocholine</text>
<rect x="1661.9" y="1074.1" width="45.7" height="21.7" fill="#bebebe" stroke="#6a6a6a" stroke-width="1.8" />
<text x="1720" y="1091.95">C34:3 PC plasmalogen</text>
<rect x="1661.9" y="1106.8" width="45.7" height="13.2" fill="#bebebe" stroke="#6a6a6a" stroke-width="1.8" />
<text x="1720" y="1120.4">Butyrobetaine</text>
<rect x="1661.9" y="1133.2" width="45.7" height="18.9" fill="#bebebe" stroke="#6a6a6a" stroke-width="1.8" />
<text x="1720" y="1149.65">Glycine</text>
<rect x="1661.9" y="1166.6" width="45.7" height="14.2" fill="#bebebe" stroke="#6a6a6a" stroke-width="1.8" />
<text x="1720" y="1180.7">Asparagine</text>
<rect x="1661.9" y="1199.9" width="45.7" height="8.5" fill="#bebebe" stroke="#6a6a6a" stroke-width="1.8" />
<text x="1720" y="1211.15">Glutamine</text>
<rect x="1661.9" y="1228.6" width="45.7" height="16" fill="#bebebe" stroke="#6a6a6a" stroke-width="1.8" />
<text x="1720" y="1243.6">C18:1 LPC</text>
<rect x="1661.9" y="1263.6" width="45.7" height="9.7" fill="#bebebe" stroke="#6a6a6a" stroke-width="1.8" />
<text x="1720" y="1275.45">N-acetylaspartic acid</text>
<rect x="1661.9" y="1294" width="45.7" height="16" fill="#bebebe" stroke="#6a6a6a" stroke-width="1.8" />
<text x="1720" y="1309">2-aminooctanoate</text>
<rect x="1661.9" y="1330.2" width="45.7" height="7.4" fill="#bebebe" stroke="#6a6a6a" stroke-width="1.8" />
<text x="1720" y="1340.9">Citrulline</text>
<rect x="1661.9" y="1353.8" width="45.7" height="19.4" fill="#bebebe" stroke="#6a6a6a" stroke-width="1.8" />
<text x="1720" y="1370.5">Carboxyibuprofen</text>
<rect x="1661.9" y="1387.1" width="45.7" height="17.1" fill="#bebebe" stroke="#6a6a6a" stroke-width="1.8" />
<text x="1720" y="1402.65">Hippurate</text>
<rect x="1661.9" y="1419.2" width="45.7" height="22.3" fill="#bebebe" stroke="#6a6a6a" stroke-width="1.8" />
<text x="1720" y="1437.35">Trigonelline</text>
<rect x="1661.9" y="1455.4" width="45.7" height="8.5" fill="#bebebe" stroke="#6a6a6a" stroke-width="1.8" />
<text x="1720" y="1466.65">Pyroglutamate</text>
<rect x="1661.9" y="1480.6" width="45.7" height="21.2" fill="#bebebe" stroke="#6a6a6a" stroke-width="1.8" />
<text x="1720" y="1498.2">Indole-3-propionate</text>
<rect x="2116.85" y="224.05" width="46" height="441.8" fill="#ff6666" stroke="#993d3d" stroke-width="1.3" />
<text x="2100.3" y="453.85" text-anchor="end" textLength="148.5" lengthAdjust="spacingAndGlyphs">Higher T2D risk</text>
<rect x="2116.85" y="1106.05" width="46" height="193.9" fill="#5f9bd6" stroke="#395d80" stroke-width="1.3" />
<text x="2100.3" y="1211.9" text-anchor="end" textLength="141.8" lengthAdjust="spacingAndGlyphs">Lower T2D risk</text>
<rect x="1213.8" y="1452.5" width="24.5" height="24.2" fill="#fdd9da" stroke="#4a4a4a" stroke-width="2" />
<rect x="1213.8" y="1487.4" width="24.5" height="24.2" fill="#c9dbef" stroke="#4a4a4a" stroke-width="2" />
<text x="1254.6" y="1471.3" textLength="199.6" lengthAdjust="spacingAndGlyphs">Positive associations</text>
<text x="1254.6" y="1506.3" textLength="211" lengthAdjust="spacingAndGlyphs">Negative associations</text>
</svg></body></html>
